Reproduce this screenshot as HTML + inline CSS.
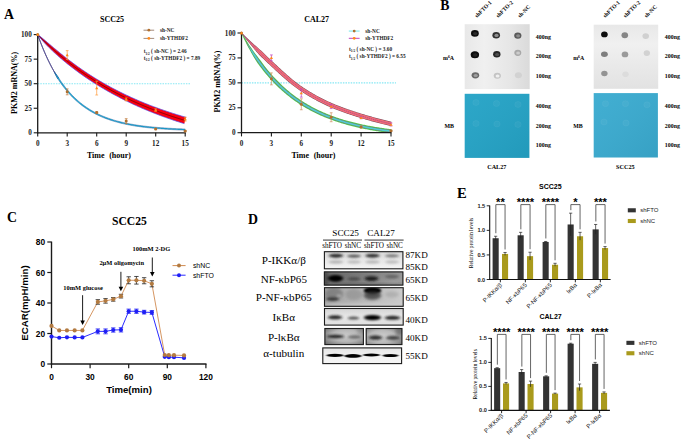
<!DOCTYPE html>
<html><head><meta charset="utf-8"><style>
html,body{margin:0;padding:0;background:#fff;}
body{width:685px;height:442px;overflow:hidden;position:relative;}
svg{position:absolute;left:0;top:0;}
</style></head><body>
<svg width="685" height="442" viewBox="0 0 685 442">
<defs>
<linearGradient id="gg" x1="0" y1="0" x2="1" y2="0"><stop offset="0" stop-color="#e8e8e8"/><stop offset="0.3" stop-color="#f0f0f0"/><stop offset="0.7" stop-color="#e6e6e6"/><stop offset="1" stop-color="#dadada"/></linearGradient>
<linearGradient id="gg2" x1="0" y1="0" x2="0" y2="1"><stop offset="0" stop-color="#e8e8e8"/><stop offset="0.3" stop-color="#f0f0f0"/><stop offset="1" stop-color="#e2e2e2"/></linearGradient>
<linearGradient id="bg" x1="0" y1="0" x2="1" y2="1"><stop offset="0" stop-color="#ffffff" stop-opacity="0.04"/><stop offset="1" stop-color="#000000" stop-opacity="0.06"/></linearGradient>
<linearGradient id="wb1" x1="0" y1="0" x2="0" y2="1"><stop offset="0" stop-color="#d8d8d8"/><stop offset="0.5" stop-color="#e8e8e8"/><stop offset="1" stop-color="#f4f4f4"/></linearGradient>
<linearGradient id="wb3" x1="0" y1="0" x2="1" y2="0"><stop offset="0" stop-color="#a4a4a4"/><stop offset="0.45" stop-color="#b4b4b4"/><stop offset="0.7" stop-color="#c0c0c0"/><stop offset="1" stop-color="#cccccc"/></linearGradient>
<linearGradient id="wb4" x1="0" y1="0" x2="0" y2="1"><stop offset="0" stop-color="#d2d2d2"/><stop offset="0.5" stop-color="#e8e8e8"/><stop offset="1" stop-color="#dedede"/></linearGradient>
<radialGradient id="wb5" cx="0.55" cy="0.45" r="0.7"><stop offset="0" stop-color="#cccccc"/><stop offset="0.5" stop-color="#b6b6b6"/><stop offset="1" stop-color="#6e6e6e"/></radialGradient>
<radialGradient id="wb5b" cx="0.45" cy="0.5" r="0.7"><stop offset="0" stop-color="#cfcfcf"/><stop offset="0.5" stop-color="#bababa"/><stop offset="1" stop-color="#747474"/></radialGradient>
<linearGradient id="wb6" x1="0" y1="0" x2="0" y2="1"><stop offset="0" stop-color="#e4e4e4"/><stop offset="0.5" stop-color="#f2f2f2"/><stop offset="1" stop-color="#f6f6f6"/></linearGradient>
<filter id="bh" x="-50%" y="-100%" width="200%" height="300%"><feGaussianBlur stdDeviation="1.4 0.85"/></filter>
<linearGradient id="wb2" x1="0" y1="0" x2="1" y2="0.3"><stop offset="0" stop-color="#626262"/><stop offset="0.5" stop-color="#7a7a7a"/><stop offset="1" stop-color="#9a9a9a"/></linearGradient>
<radialGradient id="wb5r" cx="0.5" cy="0.5" r="0.7"><stop offset="0" stop-color="#cacaca"/><stop offset="0.6" stop-color="#b4b4b4"/><stop offset="1" stop-color="#7a7a7a"/></radialGradient>
<filter id="bt" x="-50%" y="-100%" width="200%" height="300%"><feGaussianBlur stdDeviation="1.0 0.5"/></filter>
<filter id="b05" x="-50%" y="-50%" width="200%" height="200%"><feGaussianBlur stdDeviation="0.5"/></filter>
<filter id="b1" x="-50%" y="-50%" width="200%" height="200%"><feGaussianBlur stdDeviation="1"/></filter>
<filter id="b15" x="-50%" y="-50%" width="200%" height="200%"><feGaussianBlur stdDeviation="1.5"/></filter>
</defs>
<text x="100.00" y="21.60" font-family='"Liberation Serif", serif' font-size="8.0" font-weight="bold" text-anchor="start" fill="#000">SCC25</text>
<line x1="37.70" y1="83.70" x2="190.12" y2="83.70" stroke="#86e8f4" stroke-width="1.1" stroke-dasharray="1.5,1.1"/>
<path d="M37.70,34.60 L37.84,34.99 L37.98,35.38 L38.12,35.77 L38.25,36.16 L38.39,36.55 L38.53,36.93 L38.67,37.31 L38.81,37.70 L38.95,38.08 L39.09,38.45 L39.22,38.83 L39.36,39.21 L39.50,39.58 L39.64,39.95 L39.78,40.32 L39.92,40.69 L40.06,41.06 L40.19,41.43 L40.33,41.79 L40.47,42.15 L40.61,42.52 L40.75,42.88 L40.89,43.23 L41.03,43.59 L41.16,43.95 L41.30,44.30 L41.44,44.66 L41.58,45.01 L41.72,45.36 L41.86,45.71 L42.00,46.05 L42.13,46.40 L42.27,46.74 L42.41,47.09 L42.55,47.43 L42.69,47.77 L42.83,48.11 L42.97,48.44 L43.11,48.78 L43.24,49.11 L43.38,49.45 L43.52,49.78 L43.66,50.11 L43.80,50.44 L43.94,50.77 L44.08,51.09 L44.21,51.42 L44.35,51.74 L44.49,52.07 L44.63,52.39 L44.77,52.71 L44.91,53.03 L45.05,53.34 L45.18,53.66 L45.32,53.97 L45.46,54.29 L45.60,54.60 L45.74,54.91 L45.88,55.22 L46.02,55.53 L46.15,55.84 L46.29,56.14 L46.43,56.45 L46.57,56.75 L46.71,57.05 L46.85,57.35 L46.99,57.65 L47.12,57.95 L47.26,58.25 L47.40,58.55 L47.54,58.84 L47.68,59.13 L47.82,59.43 L47.96,59.72 L48.09,60.01 L48.23,60.30 L48.37,60.58 L48.51,60.87 L48.65,61.16 L48.79,61.44 L48.93,61.72 L49.06,62.01 L49.20,62.29 L49.34,62.57 L49.48,62.84 L49.62,63.12 L49.76,63.40 L49.90,63.67 L50.03,63.95 L50.17,64.22 L50.31,64.49 L50.45,64.76 L50.59,65.03 L50.73,65.30 L50.87,65.57 L51.00,65.83 L51.14,66.10 L51.28,66.36 L51.42,66.63 L51.56,66.89 L51.70,67.15 L51.84,67.41 L51.97,67.67 L52.11,67.92 L52.25,68.18 L52.39,68.44 L52.53,68.69 L52.67,68.94 L52.81,69.20 L52.94,69.45 L53.08,69.70 L53.22,69.95 L53.36,70.20 L53.49,70.45 L53.61,70.71 L53.73,70.96 L53.85,71.22 L53.97,71.47 L54.09,71.72 L54.21,71.98 L54.33,72.23 L54.45,72.48 L54.57,72.73 L54.69,72.97 L54.81,73.22 L54.94,73.47 L55.06,73.71 L55.18,73.96 L55.30,74.20 L55.42,74.45 L55.54,74.69 L55.66,74.93 L55.78,75.17 L55.90,75.41 L56.02,75.65 L56.14,75.89 L56.26,76.12 L56.39,76.36 L56.51,76.59 L56.63,76.83 L56.75,77.06 L56.87,77.30 L56.99,77.53 L57.11,77.76 L57.23,77.99 L57.36,78.22 L57.48,78.45 L57.60,78.67 L57.72,78.90 L58.98,78.09 L58.82,77.88 L58.67,77.68 L58.51,77.48 L58.36,77.27 L58.20,77.07 L58.05,76.86 L57.89,76.65 L57.73,76.45 L57.58,76.24 L57.42,76.03 L57.27,75.81 L57.11,75.60 L56.95,75.39 L56.80,75.17 L56.64,74.96 L56.48,74.74 L56.33,74.53 L56.17,74.31 L56.02,74.09 L55.86,73.87 L55.70,73.65 L55.55,73.42 L55.39,73.20 L55.23,72.98 L55.08,72.75 L54.92,72.52 L54.76,72.30 L54.61,72.07 L54.45,71.84 L54.29,71.61 L54.14,71.38 L53.98,71.14 L53.82,70.91 L53.67,70.67 L53.51,70.44 L53.36,70.20 L53.22,69.95 L53.08,69.70 L52.94,69.45 L52.81,69.20 L52.67,68.94 L52.53,68.69 L52.39,68.44 L52.25,68.18 L52.11,67.92 L51.97,67.67 L51.84,67.41 L51.70,67.15 L51.56,66.89 L51.42,66.63 L51.28,66.36 L51.14,66.10 L51.00,65.83 L50.87,65.57 L50.73,65.30 L50.59,65.03 L50.45,64.76 L50.31,64.49 L50.17,64.22 L50.03,63.95 L49.90,63.67 L49.76,63.40 L49.62,63.12 L49.48,62.84 L49.34,62.57 L49.20,62.29 L49.06,62.01 L48.93,61.72 L48.79,61.44 L48.65,61.16 L48.51,60.87 L48.37,60.58 L48.23,60.30 L48.09,60.01 L47.96,59.72 L47.82,59.43 L47.68,59.13 L47.54,58.84 L47.40,58.55 L47.26,58.25 L47.12,57.95 L46.99,57.65 L46.85,57.35 L46.71,57.05 L46.57,56.75 L46.43,56.45 L46.29,56.14 L46.15,55.84 L46.02,55.53 L45.88,55.22 L45.74,54.91 L45.60,54.60 L45.46,54.29 L45.32,53.97 L45.18,53.66 L45.05,53.34 L44.91,53.03 L44.77,52.71 L44.63,52.39 L44.49,52.07 L44.35,51.74 L44.21,51.42 L44.08,51.09 L43.94,50.77 L43.80,50.44 L43.66,50.11 L43.52,49.78 L43.38,49.45 L43.24,49.11 L43.11,48.78 L42.97,48.44 L42.83,48.11 L42.69,47.77 L42.55,47.43 L42.41,47.09 L42.27,46.74 L42.13,46.40 L42.00,46.05 L41.86,45.71 L41.72,45.36 L41.58,45.01 L41.44,44.66 L41.30,44.30 L41.16,43.95 L41.03,43.59 L40.89,43.23 L40.75,42.88 L40.61,42.52 L40.47,42.15 L40.33,41.79 L40.19,41.43 L40.06,41.06 L39.92,40.69 L39.78,40.32 L39.64,39.95 L39.50,39.58 L39.36,39.21 L39.22,38.83 L39.09,38.45 L38.95,38.08 L38.81,37.70 L38.67,37.31 L38.53,36.93 L38.39,36.55 L38.25,36.16 L38.12,35.77 L37.98,35.38 L37.84,34.99 L37.70,34.60 Z" fill="#1aa0c8"/>
<path d="M37.70,34.60 L37.84,34.99 L37.98,35.38 L38.12,35.77 L38.25,36.16 L38.39,36.55 L38.53,36.93 L38.67,37.31 L38.81,37.70 L38.95,38.08 L39.09,38.45 L39.22,38.83 L39.36,39.21 L39.50,39.58 L39.64,39.95 L39.78,40.32 L39.92,40.69 L40.06,41.06 L40.19,41.43 L40.33,41.79 L40.47,42.15 L40.61,42.52 L40.75,42.88 L40.89,43.23 L41.03,43.59 L41.16,43.95 L41.30,44.30 L41.44,44.66 L41.58,45.01 L41.72,45.36 L41.86,45.71 L42.00,46.05 L42.13,46.40 L42.27,46.74 L42.41,47.09 L42.55,47.43 L42.69,47.77 L42.83,48.11 L42.97,48.44 L43.11,48.78 L43.24,49.11 L43.38,49.45 L43.52,49.78 L43.66,50.11 L43.80,50.44 L43.94,50.77 L44.08,51.09 L44.21,51.42 L44.35,51.74 L44.49,52.07 L44.63,52.39 L44.77,52.71 L44.91,53.03 L45.05,53.34 L45.18,53.66 L45.32,53.97 L45.46,54.29 L45.60,54.60 L45.74,54.91 L45.88,55.22 L46.02,55.53 L46.15,55.84 L46.29,56.14 L46.43,56.45 L46.57,56.75 L46.71,57.05 L46.85,57.35 L46.99,57.65 L47.12,57.95 L47.26,58.25 L47.40,58.55 L47.54,58.84 L47.68,59.13 L47.82,59.43 L47.96,59.72 L48.09,60.01 L48.23,60.30 L48.37,60.58 L48.51,60.87 L48.65,61.16 L48.79,61.44 L48.93,61.72 L49.06,62.01 L49.20,62.29 L49.34,62.57 L49.48,62.84 L49.62,63.12 L49.76,63.40 L49.90,63.67 L50.03,63.95 L50.17,64.22 L50.31,64.49 L50.45,64.76 L50.59,65.03 L50.73,65.30 L50.87,65.57 L51.00,65.83 L51.14,66.10 L51.28,66.36 L51.42,66.63 L51.56,66.89 L51.70,67.15 L51.84,67.41 L51.97,67.67 L52.11,67.92 L52.25,68.18 L52.39,68.44 L52.53,68.69 L52.67,68.94 L52.81,69.20 L52.94,69.45 L53.08,69.70 L53.22,69.95 L53.36,70.20 L53.49,70.45 L53.61,70.71 L53.73,70.96 L53.85,71.22 L53.97,71.47 L54.09,71.72 L54.21,71.98 L54.33,72.23 L54.45,72.48 L54.57,72.73 L54.69,72.97 L54.81,73.22 L54.94,73.47 L55.06,73.71 L55.18,73.96 L55.30,74.20 L55.42,74.45 L55.54,74.69 L55.66,74.93 L55.78,75.17 L55.90,75.41 L56.02,75.65 L56.14,75.89 L56.26,76.12 L56.39,76.36 L56.51,76.59 L56.63,76.83 L56.75,77.06 L56.87,77.30 L56.99,77.53 L57.11,77.76 L57.23,77.99 L57.36,78.22 L57.48,78.45 L57.60,78.67 L57.72,78.90" fill="none" stroke="#2a5a9a" stroke-width="0.4"/>
<path d="M37.70,34.60 L37.84,34.99 L37.98,35.38 L38.12,35.77 L38.25,36.16 L38.39,36.55 L38.53,36.93 L38.67,37.31 L38.81,37.70 L38.95,38.08 L39.09,38.45 L39.22,38.83 L39.36,39.21 L39.50,39.58 L39.64,39.95 L39.78,40.32 L39.92,40.69 L40.06,41.06 L40.19,41.43 L40.33,41.79 L40.47,42.15 L40.61,42.52 L40.75,42.88 L40.89,43.23 L41.03,43.59 L41.16,43.95 L41.30,44.30 L41.44,44.66 L41.58,45.01 L41.72,45.36 L41.86,45.71 L42.00,46.05 L42.13,46.40 L42.27,46.74 L42.41,47.09 L42.55,47.43 L42.69,47.77 L42.83,48.11 L42.97,48.44 L43.11,48.78 L43.24,49.11 L43.38,49.45 L43.52,49.78 L43.66,50.11 L43.80,50.44 L43.94,50.77 L44.08,51.09 L44.21,51.42 L44.35,51.74 L44.49,52.07 L44.63,52.39 L44.77,52.71 L44.91,53.03 L45.05,53.34 L45.18,53.66 L45.32,53.97 L45.46,54.29 L45.60,54.60 L45.74,54.91 L45.88,55.22 L46.02,55.53 L46.15,55.84 L46.29,56.14 L46.43,56.45 L46.57,56.75 L46.71,57.05 L46.85,57.35 L46.99,57.65 L47.12,57.95 L47.26,58.25 L47.40,58.55 L47.54,58.84 L47.68,59.13 L47.82,59.43 L47.96,59.72 L48.09,60.01 L48.23,60.30 L48.37,60.58 L48.51,60.87 L48.65,61.16 L48.79,61.44 L48.93,61.72 L49.06,62.01 L49.20,62.29 L49.34,62.57 L49.48,62.84 L49.62,63.12 L49.76,63.40 L49.90,63.67 L50.03,63.95 L50.17,64.22 L50.31,64.49 L50.45,64.76 L50.59,65.03 L50.73,65.30 L50.87,65.57 L51.00,65.83 L51.14,66.10 L51.28,66.36 L51.42,66.63 L51.56,66.89 L51.70,67.15 L51.84,67.41 L51.97,67.67 L52.11,67.92 L52.25,68.18 L52.39,68.44 L52.53,68.69 L52.67,68.94 L52.81,69.20 L52.94,69.45 L53.08,69.70 L53.22,69.95 L53.36,70.20 L53.51,70.44 L53.67,70.67 L53.82,70.91 L53.98,71.14 L54.14,71.38 L54.29,71.61 L54.45,71.84 L54.61,72.07 L54.76,72.30 L54.92,72.52 L55.08,72.75 L55.23,72.98 L55.39,73.20 L55.55,73.42 L55.70,73.65 L55.86,73.87 L56.02,74.09 L56.17,74.31 L56.33,74.53 L56.48,74.74 L56.64,74.96 L56.80,75.17 L56.95,75.39 L57.11,75.60 L57.27,75.81 L57.42,76.03 L57.58,76.24 L57.73,76.45 L57.89,76.65 L58.05,76.86 L58.20,77.07 L58.36,77.27 L58.51,77.48 L58.67,77.68 L58.82,77.88 L58.98,78.09" fill="none" stroke="#2a5a9a" stroke-width="0.4"/>
<path d="M37.70,34.60 L37.84,34.99 L37.98,35.38 L38.12,35.77 L38.25,36.16 L38.39,36.55 L38.53,36.93 L38.67,37.31 L38.81,37.70 L38.95,38.08 L39.09,38.45 L39.22,38.83 L39.36,39.21 L39.50,39.58 L39.64,39.95 L39.78,40.32 L39.92,40.69 L40.06,41.06 L40.19,41.43 L40.33,41.79 L40.47,42.15 L40.61,42.52 L40.75,42.88 L40.89,43.23 L41.03,43.59 L41.16,43.95 L41.30,44.30 L41.44,44.66 L41.58,45.01 L41.72,45.36 L41.86,45.71 L42.00,46.05 L42.13,46.40 L42.27,46.74 L42.41,47.09 L42.55,47.43 L42.69,47.77 L42.83,48.11 L42.97,48.44 L43.11,48.78 L43.24,49.11 L43.38,49.45 L43.52,49.78 L43.66,50.11 L43.80,50.44 L43.94,50.77 L44.08,51.09 L44.21,51.42 L44.35,51.74 L44.49,52.07 L44.63,52.39 L44.77,52.71 L44.91,53.03 L45.05,53.34 L45.18,53.66 L45.32,53.97 L45.46,54.29 L45.60,54.60 L45.74,54.91 L45.88,55.22 L46.02,55.53 L46.15,55.84 L46.29,56.14 L46.43,56.45 L46.57,56.75 L46.71,57.05 L46.85,57.35 L46.99,57.65 L47.12,57.95 L47.26,58.25 L47.40,58.55 L47.54,58.84 L47.68,59.13 L47.82,59.43 L47.96,59.72 L48.09,60.01 L48.23,60.30 L48.37,60.58 L48.51,60.87 L48.65,61.16 L48.79,61.44 L48.93,61.72 L49.06,62.01 L49.20,62.29 L49.34,62.57 L49.48,62.84 L49.62,63.12 L49.76,63.40 L49.90,63.67 L50.03,63.95 L50.17,64.22 L50.31,64.49 L50.45,64.76 L50.59,65.03 L50.73,65.30 L50.87,65.57 L51.00,65.83 L51.14,66.10 L51.28,66.36 L51.42,66.63 L51.56,66.89 L51.70,67.15 L51.84,67.41 L51.97,67.67 L52.11,67.92 L52.25,68.18 L52.39,68.44 L52.53,68.69 L52.67,68.94 L52.81,69.20 L52.94,69.45 L53.08,69.70 L53.22,69.95 L53.36,70.20 L53.50,70.44 L53.64,70.69 L53.78,70.94 L53.92,71.18 L54.05,71.42 L54.19,71.67 L54.33,71.91 L54.47,72.15 L54.61,72.39 L54.75,72.63 L54.89,72.86 L55.02,73.10 L55.16,73.33 L55.30,73.57 L55.44,73.80 L55.58,74.04 L55.72,74.27 L55.86,74.50 L55.99,74.73 L56.13,74.96 L56.27,75.18 L56.41,75.41 L56.55,75.64 L56.69,75.86 L56.83,76.09 L56.96,76.31 L57.10,76.53 L57.24,76.75 L57.38,76.97 L57.52,77.19 L57.66,77.41 L57.80,77.63 L57.93,77.85 L58.07,78.06 L58.21,78.28 L58.35,78.49" fill="none" stroke="#4b2a78" stroke-width="0.9"/>
<path d="M54.29,72.13 L55.05,73.70 L55.82,75.24 L56.58,76.74 L57.42,78.16 L58.30,79.52 L59.19,80.85 L60.07,82.14 L60.95,83.40 L61.83,84.63 L62.71,85.82 L63.60,86.99 L64.48,88.12 L65.36,89.23 L66.24,90.31 L67.13,91.36 L68.01,92.38 L68.89,93.38 L69.77,94.36 L70.66,95.30 L71.54,96.23 L72.42,97.13 L73.31,98.01 L74.19,98.86 L75.07,99.69 L75.96,100.51 L76.84,101.30 L77.72,102.07 L78.61,102.82 L79.49,103.55 L80.37,104.27 L81.26,104.96 L82.14,105.64 L83.03,106.30 L83.91,106.95 L84.79,107.57 L85.68,108.18 L86.56,108.78 L87.44,109.36 L88.33,109.92 L89.21,110.48 L90.10,111.01 L90.98,111.54 L91.86,112.05 L92.75,112.54 L93.63,113.03 L94.51,113.50 L95.40,113.96 L96.28,114.41 L97.16,114.84 L98.05,115.27 L98.93,115.68 L99.81,116.08 L100.70,116.48 L101.58,116.86 L102.46,117.23 L103.34,117.60 L104.23,117.95 L105.11,118.30 L105.99,118.63 L106.87,118.96 L107.76,119.28 L108.64,119.59 L109.52,119.90 L110.40,120.19 L111.29,120.48 L112.17,120.76 L113.05,121.03 L113.93,121.30 L114.81,121.56 L115.70,121.81 L116.58,122.06 L117.46,122.30 L118.34,122.53 L119.22,122.76 L120.10,122.98 L120.98,123.20 L121.86,123.41 L122.75,123.62 L123.63,123.82 L124.51,124.01 L125.39,124.20 L126.27,124.39 L127.15,124.57 L128.03,124.74 L128.91,124.91 L129.79,125.08 L130.67,125.24 L131.55,125.40 L132.43,125.56 L133.31,125.71 L134.19,125.85 L135.07,126.00 L135.95,126.14 L136.83,126.27 L137.71,126.40 L138.59,126.53 L139.47,126.66 L140.35,126.78 L141.23,126.90 L142.11,127.02 L142.99,127.13 L143.87,127.24 L144.75,127.35 L145.63,127.45 L146.51,127.55 L147.39,127.65 L148.27,127.75 L149.15,127.84 L150.03,127.93 L150.91,128.02 L151.79,128.11 L152.67,128.20 L153.55,128.28 L154.42,128.36 L155.30,128.44 L156.18,128.52 L157.06,128.59 L157.94,128.66 L158.82,128.73 L159.70,128.80 L160.58,128.87 L161.46,128.94 L162.34,129.00 L163.21,129.06 L164.09,129.12 L164.97,129.18 L165.85,129.24 L166.73,129.30 L167.61,129.35 L168.49,129.40 L169.37,129.46 L170.24,129.51 L171.12,129.56 L172.00,129.60 L172.88,129.65 L173.76,129.70 L174.64,129.74 L175.52,129.78 L176.39,129.83 L177.27,129.87 L178.15,129.91 L179.03,129.95 L179.91,129.98 L180.79,130.02 L181.66,130.06 L182.54,130.09 L183.42,130.13 L184.30,130.16 L185.18,130.19 L185.22,128.99 L184.34,128.96 L183.47,128.93 L182.59,128.89 L181.71,128.86 L180.84,128.82 L179.96,128.79 L179.08,128.75 L178.21,128.71 L177.33,128.67 L176.45,128.63 L175.57,128.59 L174.70,128.54 L173.82,128.50 L172.94,128.45 L172.07,128.41 L171.19,128.36 L170.31,128.31 L169.44,128.26 L168.56,128.21 L167.68,128.15 L166.81,128.10 L165.93,128.04 L165.05,127.98 L164.18,127.93 L163.30,127.86 L162.42,127.80 L161.55,127.74 L160.67,127.67 L159.79,127.61 L158.92,127.54 L158.04,127.47 L157.16,127.39 L156.29,127.32 L155.41,127.24 L154.53,127.16 L153.66,127.08 L152.78,127.00 L151.90,126.92 L151.03,126.83 L150.15,126.74 L149.28,126.65 L148.40,126.56 L147.52,126.46 L146.65,126.36 L145.77,126.26 L144.90,126.15 L144.02,126.05 L143.14,125.94 L142.27,125.83 L141.39,125.71 L140.52,125.59 L139.64,125.47 L138.77,125.34 L137.89,125.22 L137.01,125.08 L136.14,124.95 L135.26,124.81 L134.39,124.67 L133.51,124.52 L132.64,124.37 L131.76,124.22 L130.89,124.06 L130.01,123.90 L129.14,123.74 L128.26,123.57 L127.39,123.39 L126.51,123.21 L125.64,123.03 L124.76,122.84 L123.89,122.65 L123.02,122.45 L122.14,122.24 L121.27,122.03 L120.39,121.82 L119.52,121.60 L118.64,121.37 L117.77,121.14 L116.90,120.90 L116.02,120.66 L115.15,120.41 L114.27,120.15 L113.40,119.89 L112.53,119.62 L111.65,119.34 L110.78,119.05 L109.91,118.76 L109.03,118.46 L108.16,118.15 L107.29,117.84 L106.41,117.51 L105.54,117.18 L104.67,116.84 L103.80,116.49 L102.92,116.13 L102.05,115.76 L101.18,115.38 L100.31,114.99 L99.43,114.59 L98.56,114.18 L97.69,113.76 L96.82,113.33 L95.94,112.89 L95.07,112.44 L94.20,111.97 L93.33,111.49 L92.46,111.00 L91.58,110.50 L90.71,109.98 L89.84,109.45 L88.97,108.91 L88.10,108.35 L87.23,107.78 L86.35,107.19 L85.48,106.59 L84.61,105.97 L83.74,105.34 L82.87,104.68 L81.99,104.02 L81.12,103.33 L80.25,102.63 L79.38,101.90 L78.51,101.16 L77.64,100.40 L76.76,99.62 L75.89,98.82 L75.02,97.99 L74.15,97.15 L73.27,96.28 L72.40,95.39 L71.53,94.48 L70.66,93.54 L69.79,92.58 L68.91,91.59 L68.04,90.58 L67.17,89.54 L66.29,88.48 L65.42,87.38 L64.55,86.26 L63.67,85.10 L62.80,83.92 L61.93,82.70 L61.05,81.46 L60.18,80.18 L59.31,78.86 L58.43,77.51 L57.52,76.16 L56.53,74.80 L55.54,73.41 L54.55,71.98 Z" fill="#18bce0"/>
<path d="M54.29,72.13 L55.05,73.70 L55.82,75.24 L56.58,76.74 L57.42,78.16 L58.30,79.52 L59.19,80.85 L60.07,82.14 L60.95,83.40 L61.83,84.63 L62.71,85.82 L63.60,86.99 L64.48,88.12 L65.36,89.23 L66.24,90.31 L67.13,91.36 L68.01,92.38 L68.89,93.38 L69.77,94.36 L70.66,95.30 L71.54,96.23 L72.42,97.13 L73.31,98.01 L74.19,98.86 L75.07,99.69 L75.96,100.51 L76.84,101.30 L77.72,102.07 L78.61,102.82 L79.49,103.55 L80.37,104.27 L81.26,104.96 L82.14,105.64 L83.03,106.30 L83.91,106.95 L84.79,107.57 L85.68,108.18 L86.56,108.78 L87.44,109.36 L88.33,109.92 L89.21,110.48 L90.10,111.01 L90.98,111.54 L91.86,112.05 L92.75,112.54 L93.63,113.03 L94.51,113.50 L95.40,113.96 L96.28,114.41 L97.16,114.84 L98.05,115.27 L98.93,115.68 L99.81,116.08 L100.70,116.48 L101.58,116.86 L102.46,117.23 L103.34,117.60 L104.23,117.95 L105.11,118.30 L105.99,118.63 L106.87,118.96 L107.76,119.28 L108.64,119.59 L109.52,119.90 L110.40,120.19 L111.29,120.48 L112.17,120.76 L113.05,121.03 L113.93,121.30 L114.81,121.56 L115.70,121.81 L116.58,122.06 L117.46,122.30 L118.34,122.53 L119.22,122.76 L120.10,122.98 L120.98,123.20 L121.86,123.41 L122.75,123.62 L123.63,123.82 L124.51,124.01 L125.39,124.20 L126.27,124.39 L127.15,124.57 L128.03,124.74 L128.91,124.91 L129.79,125.08 L130.67,125.24 L131.55,125.40 L132.43,125.56 L133.31,125.71 L134.19,125.85 L135.07,126.00 L135.95,126.14 L136.83,126.27 L137.71,126.40 L138.59,126.53 L139.47,126.66 L140.35,126.78 L141.23,126.90 L142.11,127.02 L142.99,127.13 L143.87,127.24 L144.75,127.35 L145.63,127.45 L146.51,127.55 L147.39,127.65 L148.27,127.75 L149.15,127.84 L150.03,127.93 L150.91,128.02 L151.79,128.11 L152.67,128.20 L153.55,128.28 L154.42,128.36 L155.30,128.44 L156.18,128.52 L157.06,128.59 L157.94,128.66 L158.82,128.73 L159.70,128.80 L160.58,128.87 L161.46,128.94 L162.34,129.00 L163.21,129.06 L164.09,129.12 L164.97,129.18 L165.85,129.24 L166.73,129.30 L167.61,129.35 L168.49,129.40 L169.37,129.46 L170.24,129.51 L171.12,129.56 L172.00,129.60 L172.88,129.65 L173.76,129.70 L174.64,129.74 L175.52,129.78 L176.39,129.83 L177.27,129.87 L178.15,129.91 L179.03,129.95 L179.91,129.98 L180.79,130.02 L181.66,130.06 L182.54,130.09 L183.42,130.13 L184.30,130.16 L185.18,130.19" fill="none" stroke="#264a8e" stroke-width="0.45"/>
<path d="M54.55,71.98 L55.54,73.41 L56.53,74.80 L57.52,76.16 L58.43,77.51 L59.31,78.86 L60.18,80.18 L61.05,81.46 L61.93,82.70 L62.80,83.92 L63.67,85.10 L64.55,86.26 L65.42,87.38 L66.29,88.48 L67.17,89.54 L68.04,90.58 L68.91,91.59 L69.79,92.58 L70.66,93.54 L71.53,94.48 L72.40,95.39 L73.27,96.28 L74.15,97.15 L75.02,97.99 L75.89,98.82 L76.76,99.62 L77.64,100.40 L78.51,101.16 L79.38,101.90 L80.25,102.63 L81.12,103.33 L81.99,104.02 L82.87,104.68 L83.74,105.34 L84.61,105.97 L85.48,106.59 L86.35,107.19 L87.23,107.78 L88.10,108.35 L88.97,108.91 L89.84,109.45 L90.71,109.98 L91.58,110.50 L92.46,111.00 L93.33,111.49 L94.20,111.97 L95.07,112.44 L95.94,112.89 L96.82,113.33 L97.69,113.76 L98.56,114.18 L99.43,114.59 L100.31,114.99 L101.18,115.38 L102.05,115.76 L102.92,116.13 L103.80,116.49 L104.67,116.84 L105.54,117.18 L106.41,117.51 L107.29,117.84 L108.16,118.15 L109.03,118.46 L109.91,118.76 L110.78,119.05 L111.65,119.34 L112.53,119.62 L113.40,119.89 L114.27,120.15 L115.15,120.41 L116.02,120.66 L116.90,120.90 L117.77,121.14 L118.64,121.37 L119.52,121.60 L120.39,121.82 L121.27,122.03 L122.14,122.24 L123.02,122.45 L123.89,122.65 L124.76,122.84 L125.64,123.03 L126.51,123.21 L127.39,123.39 L128.26,123.57 L129.14,123.74 L130.01,123.90 L130.89,124.06 L131.76,124.22 L132.64,124.37 L133.51,124.52 L134.39,124.67 L135.26,124.81 L136.14,124.95 L137.01,125.08 L137.89,125.22 L138.77,125.34 L139.64,125.47 L140.52,125.59 L141.39,125.71 L142.27,125.83 L143.14,125.94 L144.02,126.05 L144.90,126.15 L145.77,126.26 L146.65,126.36 L147.52,126.46 L148.40,126.56 L149.28,126.65 L150.15,126.74 L151.03,126.83 L151.90,126.92 L152.78,127.00 L153.66,127.08 L154.53,127.16 L155.41,127.24 L156.29,127.32 L157.16,127.39 L158.04,127.47 L158.92,127.54 L159.79,127.61 L160.67,127.67 L161.55,127.74 L162.42,127.80 L163.30,127.86 L164.18,127.93 L165.05,127.98 L165.93,128.04 L166.81,128.10 L167.68,128.15 L168.56,128.21 L169.44,128.26 L170.31,128.31 L171.19,128.36 L172.07,128.41 L172.94,128.45 L173.82,128.50 L174.70,128.54 L175.57,128.59 L176.45,128.63 L177.33,128.67 L178.21,128.71 L179.08,128.75 L179.96,128.79 L180.84,128.82 L181.71,128.86 L182.59,128.89 L183.47,128.93 L184.34,128.96 L185.22,128.99" fill="none" stroke="#264a8e" stroke-width="0.45"/>
<path d="M37.59,34.71 L38.46,35.83 L39.35,36.93 L40.24,38.02 L41.14,39.09 L42.06,40.14 L42.98,41.18 L43.91,42.21 L44.84,43.22 L45.78,44.21 L46.73,45.20 L47.68,46.17 L48.64,47.13 L49.60,48.08 L50.56,49.02 L51.52,49.95 L52.49,50.87 L53.46,51.78 L54.43,52.68 L55.41,53.57 L56.38,54.45 L57.36,55.33 L58.34,56.19 L59.32,57.05 L60.30,57.90 L61.28,58.74 L62.26,59.57 L63.25,60.40 L64.23,61.22 L65.22,62.03 L66.20,62.83 L67.19,63.63 L68.17,64.42 L69.16,65.21 L70.15,65.98 L71.13,66.75 L72.12,67.52 L73.11,68.27 L74.10,69.02 L75.09,69.77 L76.08,70.51 L77.07,71.24 L78.06,71.96 L79.04,72.68 L80.03,73.40 L81.02,74.11 L82.01,74.81 L83.00,75.50 L83.99,76.19 L84.98,76.88 L85.97,77.56 L86.97,78.23 L87.96,78.90 L88.95,79.56 L89.94,80.22 L90.93,80.87 L91.92,81.52 L92.91,82.16 L93.90,82.79 L94.89,83.42 L95.88,84.05 L96.88,84.67 L97.87,85.29 L98.86,85.90 L99.85,86.50 L100.84,87.10 L101.83,87.70 L102.83,88.29 L103.82,88.87 L104.81,89.46 L105.80,90.03 L106.79,90.60 L107.79,91.17 L108.78,91.73 L109.77,92.29 L110.76,92.85 L111.75,93.39 L112.75,93.94 L113.74,94.48 L114.73,95.02 L115.72,95.55 L116.72,96.07 L117.71,96.60 L118.70,97.12 L119.69,97.63 L120.69,98.14 L121.68,98.65 L122.67,99.15 L123.66,99.65 L124.66,100.14 L125.65,100.63 L126.64,101.12 L127.63,101.60 L128.63,102.08 L129.62,102.56 L130.61,103.03 L131.61,103.50 L132.60,103.96 L133.59,104.42 L134.59,104.88 L135.58,105.33 L136.57,105.78 L137.56,106.22 L138.56,106.67 L139.55,107.11 L140.54,107.54 L141.54,107.97 L142.53,108.40 L143.52,108.83 L144.52,109.25 L145.51,109.67 L146.50,110.08 L147.50,110.49 L148.49,110.90 L149.48,111.31 L150.48,111.71 L151.47,112.11 L152.46,112.50 L153.46,112.89 L154.45,113.28 L155.44,113.67 L156.44,114.05 L157.43,114.43 L158.42,114.81 L159.42,115.19 L160.41,115.56 L161.41,115.93 L162.40,116.29 L163.39,116.66 L164.39,117.02 L165.38,117.37 L166.37,117.73 L167.37,118.08 L168.36,118.43 L169.35,118.78 L170.35,119.12 L171.34,119.46 L172.33,119.80 L173.33,120.14 L174.32,120.47 L175.31,120.80 L176.31,121.13 L177.30,121.46 L178.30,121.78 L179.29,122.10 L180.28,122.42 L181.28,122.73 L182.27,123.05 L183.26,123.36 L184.25,123.67 L186.15,117.34 L185.16,117.06 L184.17,116.77 L183.18,116.49 L182.20,116.20 L181.21,115.90 L180.23,115.61 L179.24,115.31 L178.25,115.01 L177.27,114.71 L176.28,114.40 L175.29,114.09 L174.31,113.78 L173.32,113.47 L172.33,113.15 L171.35,112.84 L170.36,112.51 L169.38,112.19 L168.39,111.87 L167.40,111.54 L166.42,111.20 L165.43,110.87 L164.44,110.53 L163.46,110.19 L162.47,109.85 L161.49,109.51 L160.50,109.16 L159.51,108.81 L158.53,108.45 L157.54,108.09 L156.55,107.73 L155.57,107.37 L154.58,107.00 L153.59,106.63 L152.61,106.26 L151.62,105.89 L150.63,105.51 L149.65,105.13 L148.66,104.74 L147.67,104.35 L146.69,103.96 L145.70,103.57 L144.71,103.17 L143.73,102.77 L142.74,102.36 L141.75,101.95 L140.77,101.54 L139.78,101.13 L138.79,100.71 L137.81,100.29 L136.82,99.86 L135.83,99.43 L134.85,99.00 L133.86,98.56 L132.87,98.12 L131.89,97.68 L130.90,97.23 L129.91,96.78 L128.93,96.32 L127.94,95.86 L126.95,95.40 L125.96,94.93 L124.98,94.46 L123.99,93.99 L123.00,93.51 L122.02,93.02 L121.03,92.54 L120.04,92.05 L119.05,91.55 L118.07,91.05 L117.08,90.55 L116.09,90.04 L115.10,89.52 L114.12,89.01 L113.13,88.49 L112.14,87.96 L111.15,87.43 L110.17,86.90 L109.18,86.36 L108.19,85.81 L107.20,85.26 L106.21,84.71 L105.23,84.15 L104.24,83.59 L103.25,83.02 L102.26,82.45 L101.27,81.87 L100.28,81.29 L99.30,80.70 L98.31,80.11 L97.32,79.51 L96.33,78.91 L95.34,78.30 L94.35,77.69 L93.36,77.07 L92.38,76.45 L91.39,75.82 L90.40,75.19 L89.41,74.55 L88.42,73.90 L87.43,73.25 L86.44,72.60 L85.45,71.94 L84.46,71.27 L83.47,70.60 L82.48,69.92 L81.49,69.24 L80.50,68.55 L79.51,67.85 L78.52,67.15 L77.53,66.44 L76.54,65.73 L75.54,65.01 L74.55,64.28 L73.56,63.55 L72.57,62.82 L71.58,62.07 L70.58,61.32 L69.59,60.57 L68.59,59.81 L67.60,59.04 L66.61,58.27 L65.61,57.49 L64.61,56.70 L63.62,55.91 L62.62,55.11 L61.62,54.30 L60.62,53.49 L59.62,52.68 L58.61,51.86 L57.61,51.03 L56.60,50.20 L55.60,49.36 L54.59,48.51 L53.57,47.66 L52.56,46.81 L51.54,45.95 L50.52,45.08 L49.50,44.21 L48.47,43.34 L47.43,42.46 L46.40,41.58 L45.35,40.70 L44.30,39.82 L43.24,38.93 L42.18,38.04 L41.10,37.15 L40.01,36.27 L38.92,35.38 L37.81,34.49 Z" fill="#f80010"/>
<path d="M37.59,34.71 L38.46,35.83 L39.35,36.93 L40.24,38.02 L41.14,39.09 L42.06,40.14 L42.98,41.18 L43.91,42.21 L44.84,43.22 L45.78,44.21 L46.73,45.20 L47.68,46.17 L48.64,47.13 L49.60,48.08 L50.56,49.02 L51.52,49.95 L52.49,50.87 L53.46,51.78 L54.43,52.68 L55.41,53.57 L56.38,54.45 L57.36,55.33 L58.34,56.19 L59.32,57.05 L60.30,57.90 L61.28,58.74 L62.26,59.57 L63.25,60.40 L64.23,61.22 L65.22,62.03 L66.20,62.83 L67.19,63.63 L68.17,64.42 L69.16,65.21 L70.15,65.98 L71.13,66.75 L72.12,67.52 L73.11,68.27 L74.10,69.02 L75.09,69.77 L76.08,70.51 L77.07,71.24 L78.06,71.96 L79.04,72.68 L80.03,73.40 L81.02,74.11 L82.01,74.81 L83.00,75.50 L83.99,76.19 L84.98,76.88 L85.97,77.56 L86.97,78.23 L87.96,78.90 L88.95,79.56 L89.94,80.22 L90.93,80.87 L91.92,81.52 L92.91,82.16 L93.90,82.79 L94.89,83.42 L95.88,84.05 L96.88,84.67 L97.87,85.29 L98.86,85.90 L99.85,86.50 L100.84,87.10 L101.83,87.70 L102.83,88.29 L103.82,88.87 L104.81,89.46 L105.80,90.03 L106.79,90.60 L107.79,91.17 L108.78,91.73 L109.77,92.29 L110.76,92.85 L111.75,93.39 L112.75,93.94 L113.74,94.48 L114.73,95.02 L115.72,95.55 L116.72,96.07 L117.71,96.60 L118.70,97.12 L119.69,97.63 L120.69,98.14 L121.68,98.65 L122.67,99.15 L123.66,99.65 L124.66,100.14 L125.65,100.63 L126.64,101.12 L127.63,101.60 L128.63,102.08 L129.62,102.56 L130.61,103.03 L131.61,103.50 L132.60,103.96 L133.59,104.42 L134.59,104.88 L135.58,105.33 L136.57,105.78 L137.56,106.22 L138.56,106.67 L139.55,107.11 L140.54,107.54 L141.54,107.97 L142.53,108.40 L143.52,108.83 L144.52,109.25 L145.51,109.67 L146.50,110.08 L147.50,110.49 L148.49,110.90 L149.48,111.31 L150.48,111.71 L151.47,112.11 L152.46,112.50 L153.46,112.89 L154.45,113.28 L155.44,113.67 L156.44,114.05 L157.43,114.43 L158.42,114.81 L159.42,115.19 L160.41,115.56 L161.41,115.93 L162.40,116.29 L163.39,116.66 L164.39,117.02 L165.38,117.37 L166.37,117.73 L167.37,118.08 L168.36,118.43 L169.35,118.78 L170.35,119.12 L171.34,119.46 L172.33,119.80 L173.33,120.14 L174.32,120.47 L175.31,120.80 L176.31,121.13 L177.30,121.46 L178.30,121.78 L179.29,122.10 L180.28,122.42 L181.28,122.73 L182.27,123.05 L183.26,123.36 L184.25,123.67" fill="none" stroke="#4a4af5" stroke-width="0.7"/>
<path d="M37.81,34.49 L38.92,35.38 L40.01,36.27 L41.10,37.15 L42.18,38.04 L43.24,38.93 L44.30,39.82 L45.35,40.70 L46.40,41.58 L47.43,42.46 L48.47,43.34 L49.50,44.21 L50.52,45.08 L51.54,45.95 L52.56,46.81 L53.57,47.66 L54.59,48.51 L55.60,49.36 L56.60,50.20 L57.61,51.03 L58.61,51.86 L59.62,52.68 L60.62,53.49 L61.62,54.30 L62.62,55.11 L63.62,55.91 L64.61,56.70 L65.61,57.49 L66.61,58.27 L67.60,59.04 L68.59,59.81 L69.59,60.57 L70.58,61.32 L71.58,62.07 L72.57,62.82 L73.56,63.55 L74.55,64.28 L75.54,65.01 L76.54,65.73 L77.53,66.44 L78.52,67.15 L79.51,67.85 L80.50,68.55 L81.49,69.24 L82.48,69.92 L83.47,70.60 L84.46,71.27 L85.45,71.94 L86.44,72.60 L87.43,73.25 L88.42,73.90 L89.41,74.55 L90.40,75.19 L91.39,75.82 L92.38,76.45 L93.36,77.07 L94.35,77.69 L95.34,78.30 L96.33,78.91 L97.32,79.51 L98.31,80.11 L99.30,80.70 L100.28,81.29 L101.27,81.87 L102.26,82.45 L103.25,83.02 L104.24,83.59 L105.23,84.15 L106.21,84.71 L107.20,85.26 L108.19,85.81 L109.18,86.36 L110.17,86.90 L111.15,87.43 L112.14,87.96 L113.13,88.49 L114.12,89.01 L115.10,89.52 L116.09,90.04 L117.08,90.55 L118.07,91.05 L119.05,91.55 L120.04,92.05 L121.03,92.54 L122.02,93.02 L123.00,93.51 L123.99,93.99 L124.98,94.46 L125.96,94.93 L126.95,95.40 L127.94,95.86 L128.93,96.32 L129.91,96.78 L130.90,97.23 L131.89,97.68 L132.87,98.12 L133.86,98.56 L134.85,99.00 L135.83,99.43 L136.82,99.86 L137.81,100.29 L138.79,100.71 L139.78,101.13 L140.77,101.54 L141.75,101.95 L142.74,102.36 L143.73,102.77 L144.71,103.17 L145.70,103.57 L146.69,103.96 L147.67,104.35 L148.66,104.74 L149.65,105.13 L150.63,105.51 L151.62,105.89 L152.61,106.26 L153.59,106.63 L154.58,107.00 L155.57,107.37 L156.55,107.73 L157.54,108.09 L158.53,108.45 L159.51,108.81 L160.50,109.16 L161.49,109.51 L162.47,109.85 L163.46,110.19 L164.44,110.53 L165.43,110.87 L166.42,111.20 L167.40,111.54 L168.39,111.87 L169.38,112.19 L170.36,112.51 L171.35,112.84 L172.33,113.15 L173.32,113.47 L174.31,113.78 L175.29,114.09 L176.28,114.40 L177.27,114.71 L178.25,115.01 L179.24,115.31 L180.23,115.61 L181.21,115.90 L182.20,116.20 L183.18,116.49 L184.17,116.77 L185.16,117.06 L186.15,117.34" fill="none" stroke="#4a4af5" stroke-width="0.7"/>
<path d="M37.70,34.60 L38.69,35.60 L39.68,36.60 L40.67,37.59 L41.66,38.57 L42.65,39.54 L43.64,40.50 L44.63,41.45 L45.62,42.40 L46.61,43.34 L47.60,44.27 L48.59,45.19 L49.58,46.11 L50.57,47.01 L51.56,47.91 L52.55,48.81 L53.54,49.69 L54.53,50.57 L55.52,51.44 L56.51,52.30 L57.50,53.15 L58.49,54.00 L59.48,54.84 L60.47,55.68 L61.46,56.50 L62.45,57.32 L63.44,58.14 L64.43,58.94 L65.42,59.74 L66.41,60.53 L67.40,61.32 L68.39,62.10 L69.38,62.87 L70.37,63.64 L71.36,64.40 L72.35,65.15 L73.34,65.90 L74.33,66.64 L75.32,67.38 L76.31,68.11 L77.30,68.83 L78.29,69.54 L79.28,70.26 L80.27,70.96 L81.26,71.66 L82.25,72.35 L83.24,73.04 L84.23,73.72 L85.22,74.40 L86.21,75.07 L87.20,75.73 L88.19,76.39 L89.18,77.04 L90.17,77.69 L91.16,78.33 L92.15,78.97 L93.14,79.60 L94.13,80.23 L95.12,80.85 L96.11,81.47 L97.10,82.08 L98.09,82.69 L99.08,83.29 L100.07,83.88 L101.06,84.48 L102.05,85.06 L103.04,85.64 L104.03,86.22 L105.02,86.79 L106.01,87.36 L107.00,87.92 L107.99,88.48 L108.98,89.03 L109.97,89.58 L110.96,90.13 L111.94,90.67 L112.93,91.20 L113.92,91.73 L114.91,92.26 L115.90,92.78 L116.89,93.30 L117.88,93.81 L118.87,94.32 L119.86,94.83 L120.85,95.33 L121.84,95.82 L122.83,96.32 L123.82,96.81 L124.81,97.29 L125.80,97.77 L126.79,98.25 L127.78,98.72 L128.77,99.19 L129.76,99.66 L130.75,100.12 L131.74,100.57 L132.73,101.03 L133.72,101.48 L134.71,101.93 L135.70,102.37 L136.69,102.81 L137.68,103.24 L138.67,103.68 L139.66,104.10 L140.65,104.53 L141.64,104.95 L142.63,105.37 L143.62,105.78 L144.61,106.20 L145.60,106.60 L146.59,107.01 L147.58,107.41 L148.57,107.81 L149.56,108.20 L150.55,108.60 L151.54,108.98 L152.53,109.37 L153.52,109.75 L154.51,110.13 L155.50,110.51 L156.49,110.88 L157.48,111.25 L158.47,111.62 L159.46,111.98 L160.45,112.35 L161.44,112.70 L162.43,113.06 L163.42,113.41 L164.41,113.76 L165.40,114.11 L166.39,114.46 L167.38,114.80 L168.37,115.14 L169.36,115.47 L170.35,115.81 L171.34,116.14 L172.33,116.47 L173.32,116.79 L174.31,117.11 L175.30,117.44 L176.29,117.75 L177.28,118.07 L178.27,118.38 L179.26,118.69 L180.25,119.00 L181.24,119.31 L182.23,119.61 L183.22,119.91 L184.21,120.21 L185.20,120.51" fill="none" stroke="#500000" stroke-width="0.65"/>
<line x1="37.70" y1="34.30" x2="37.70" y2="133.40" stroke="#1a1a1a" stroke-width="1.3"/>
<line x1="37.10" y1="132.80" x2="185.80" y2="132.80" stroke="#1a1a1a" stroke-width="1.3"/>
<line x1="33.70" y1="132.80" x2="37.70" y2="132.80" stroke="#1a1a1a" stroke-width="1.1"/>
<text x="31.80" y="135.30" font-family='"Liberation Serif", serif' font-size="7.2" font-weight="bold" text-anchor="end" fill="#1a1a1a">0</text>
<line x1="33.70" y1="108.25" x2="37.70" y2="108.25" stroke="#1a1a1a" stroke-width="1.1"/>
<text x="31.80" y="110.75" font-family='"Liberation Serif", serif' font-size="7.2" font-weight="bold" text-anchor="end" fill="#1a1a1a">25</text>
<line x1="33.70" y1="83.70" x2="37.70" y2="83.70" stroke="#1a1a1a" stroke-width="1.1"/>
<text x="31.80" y="86.20" font-family='"Liberation Serif", serif' font-size="7.2" font-weight="bold" text-anchor="end" fill="#1a1a1a">50</text>
<line x1="33.70" y1="59.15" x2="37.70" y2="59.15" stroke="#1a1a1a" stroke-width="1.1"/>
<text x="31.80" y="61.65" font-family='"Liberation Serif", serif' font-size="7.2" font-weight="bold" text-anchor="end" fill="#1a1a1a">75</text>
<line x1="33.70" y1="34.60" x2="37.70" y2="34.60" stroke="#1a1a1a" stroke-width="1.1"/>
<text x="31.80" y="37.10" font-family='"Liberation Serif", serif' font-size="7.2" font-weight="bold" text-anchor="end" fill="#1a1a1a">100</text>
<line x1="37.70" y1="132.80" x2="37.70" y2="136.50" stroke="#1a1a1a" stroke-width="1.1"/>
<text x="37.70" y="146.20" font-family='"Liberation Serif", serif' font-size="7.2" font-weight="bold" text-anchor="middle" fill="#1a1a1a">0</text>
<line x1="67.20" y1="132.80" x2="67.20" y2="136.50" stroke="#1a1a1a" stroke-width="1.1"/>
<text x="67.20" y="146.20" font-family='"Liberation Serif", serif' font-size="7.2" font-weight="bold" text-anchor="middle" fill="#1a1a1a">3</text>
<line x1="96.70" y1="132.80" x2="96.70" y2="136.50" stroke="#1a1a1a" stroke-width="1.1"/>
<text x="96.70" y="146.20" font-family='"Liberation Serif", serif' font-size="7.2" font-weight="bold" text-anchor="middle" fill="#1a1a1a">6</text>
<line x1="126.20" y1="132.80" x2="126.20" y2="136.50" stroke="#1a1a1a" stroke-width="1.1"/>
<text x="126.20" y="146.20" font-family='"Liberation Serif", serif' font-size="7.2" font-weight="bold" text-anchor="middle" fill="#1a1a1a">9</text>
<line x1="155.70" y1="132.80" x2="155.70" y2="136.50" stroke="#1a1a1a" stroke-width="1.1"/>
<text x="155.70" y="146.20" font-family='"Liberation Serif", serif' font-size="7.2" font-weight="bold" text-anchor="middle" fill="#1a1a1a">12</text>
<line x1="185.20" y1="132.80" x2="185.20" y2="136.50" stroke="#1a1a1a" stroke-width="1.1"/>
<text x="185.20" y="146.20" font-family='"Liberation Serif", serif' font-size="7.2" font-weight="bold" text-anchor="middle" fill="#1a1a1a">15</text>
<text x="86.90" y="157.8" font-family='"Liberation Serif", serif' font-size="8.0" font-weight="bold">Time<tspan dx="4.6">(hour)</tspan></text>
<text x="17.40" y="82.90" font-family='"Liberation Serif", serif' font-size="8.0" font-weight="bold" text-anchor="middle" fill="#000" transform="rotate(-90 17.4 82.9)">PKM2 mRNA(%)</text>
<circle cx="37.70" cy="34.60" r="1.5" fill="#b0702f"/>
<line x1="67.20" y1="94.80" x2="67.20" y2="88.90" stroke="#c07a3a" stroke-width="0.7"/>
<line x1="65.80" y1="94.80" x2="68.60" y2="94.80" stroke="#c07a3a" stroke-width="0.7"/>
<line x1="65.80" y1="88.90" x2="68.60" y2="88.90" stroke="#c07a3a" stroke-width="0.7"/>
<circle cx="67.20" cy="91.85" r="1.5" fill="#b0702f"/>
<line x1="96.70" y1="113.55" x2="96.70" y2="111.59" stroke="#c07a3a" stroke-width="0.7"/>
<line x1="95.30" y1="113.55" x2="98.10" y2="113.55" stroke="#c07a3a" stroke-width="0.7"/>
<line x1="95.30" y1="111.59" x2="98.10" y2="111.59" stroke="#c07a3a" stroke-width="0.7"/>
<circle cx="96.70" cy="112.57" r="1.5" fill="#b0702f"/>
<line x1="126.20" y1="123.57" x2="126.20" y2="118.66" stroke="#c07a3a" stroke-width="0.7"/>
<line x1="124.80" y1="123.57" x2="127.60" y2="123.57" stroke="#c07a3a" stroke-width="0.7"/>
<line x1="124.80" y1="118.66" x2="127.60" y2="118.66" stroke="#c07a3a" stroke-width="0.7"/>
<circle cx="126.20" cy="121.11" r="1.5" fill="#b0702f"/>
<line x1="155.70" y1="129.56" x2="155.70" y2="128.38" stroke="#c07a3a" stroke-width="0.7"/>
<line x1="154.30" y1="129.56" x2="157.10" y2="129.56" stroke="#c07a3a" stroke-width="0.7"/>
<line x1="154.30" y1="128.38" x2="157.10" y2="128.38" stroke="#c07a3a" stroke-width="0.7"/>
<circle cx="155.70" cy="128.97" r="1.5" fill="#b0702f"/>
<line x1="185.20" y1="131.62" x2="185.20" y2="130.44" stroke="#c07a3a" stroke-width="0.7"/>
<line x1="183.80" y1="131.62" x2="186.60" y2="131.62" stroke="#c07a3a" stroke-width="0.7"/>
<line x1="183.80" y1="130.44" x2="186.60" y2="130.44" stroke="#c07a3a" stroke-width="0.7"/>
<circle cx="185.20" cy="131.03" r="1.5" fill="#b0702f"/>
<path d="M36.10,35.80 L37.70,33.00 L39.30,35.80 Z" fill="#ff8a1a"/>
<line x1="67.20" y1="59.64" x2="67.20" y2="50.61" stroke="#ff9a3a" stroke-width="0.7"/>
<line x1="65.80" y1="59.64" x2="68.60" y2="59.64" stroke="#ff9a3a" stroke-width="0.7"/>
<line x1="65.80" y1="50.61" x2="68.60" y2="50.61" stroke="#ff9a3a" stroke-width="0.7"/>
<path d="M65.60,56.32 L67.20,53.52 L68.80,56.32 Z" fill="#ff8a1a"/>
<line x1="96.70" y1="94.99" x2="96.70" y2="81.25" stroke="#ff9a3a" stroke-width="0.7"/>
<line x1="95.30" y1="94.99" x2="98.10" y2="94.99" stroke="#ff9a3a" stroke-width="0.7"/>
<line x1="95.30" y1="81.25" x2="98.10" y2="81.25" stroke="#ff9a3a" stroke-width="0.7"/>
<path d="M95.10,89.32 L96.70,86.52 L98.30,89.32 Z" fill="#ff8a1a"/>
<line x1="126.20" y1="100.89" x2="126.20" y2="97.94" stroke="#ff9a3a" stroke-width="0.7"/>
<line x1="124.80" y1="100.89" x2="127.60" y2="100.89" stroke="#ff9a3a" stroke-width="0.7"/>
<line x1="124.80" y1="97.94" x2="127.60" y2="97.94" stroke="#ff9a3a" stroke-width="0.7"/>
<path d="M124.60,100.61 L126.20,97.81 L127.80,100.61 Z" fill="#ff8a1a"/>
<line x1="155.70" y1="111.20" x2="155.70" y2="108.84" stroke="#ff9a3a" stroke-width="0.7"/>
<line x1="154.30" y1="111.20" x2="157.10" y2="111.20" stroke="#ff9a3a" stroke-width="0.7"/>
<line x1="154.30" y1="108.84" x2="157.10" y2="108.84" stroke="#ff9a3a" stroke-width="0.7"/>
<path d="M154.10,111.22 L155.70,108.42 L157.30,111.22 Z" fill="#ff8a1a"/>
<line x1="185.20" y1="121.11" x2="185.20" y2="117.19" stroke="#ff9a3a" stroke-width="0.7"/>
<line x1="183.80" y1="121.11" x2="186.60" y2="121.11" stroke="#ff9a3a" stroke-width="0.7"/>
<line x1="183.80" y1="117.19" x2="186.60" y2="117.19" stroke="#ff9a3a" stroke-width="0.7"/>
<path d="M183.60,120.35 L185.20,117.55 L186.80,120.35 Z" fill="#ff8a1a"/>
<line x1="143.50" y1="30.20" x2="154.20" y2="30.20" stroke="#8a6a55" stroke-width="0.8"/>
<circle cx="148.85" cy="30.20" r="1.4" fill="#b0702f"/>
<text x="159.90" y="32.10" font-family='"Liberation Serif", serif' font-size="5.3" font-weight="bold" text-anchor="start" fill="#222">sh-NC</text>
<line x1="143.50" y1="38.40" x2="154.20" y2="38.40" stroke="#8a7060" stroke-width="0.8"/>
<circle cx="148.85" cy="38.40" r="1.4" fill="#ff8a1a"/>
<text x="159.90" y="40.30" font-family='"Liberation Serif", serif' font-size="5.3" font-weight="bold" text-anchor="start" fill="#222">sh-YTHDF2</text>
<text x="143.70" y="53.40" font-family='"Liberation Serif", serif' font-size="5.3" font-weight="bold" fill="#222">t<tspan font-size="3.4" dy="1.3">1/2</tspan><tspan dy="-1.3"> ( sh-NC ) = 2.46</tspan></text>
<text x="143.70" y="59.80" font-family='"Liberation Serif", serif' font-size="5.3" font-weight="bold" fill="#222">t<tspan font-size="3.4" dy="1.3">1/2</tspan><tspan dy="-1.3"> ( sh-YTHDF2 ) = 7.89</tspan></text>
<text x="304.20" y="21.60" font-family='"Liberation Serif", serif' font-size="8.0" font-weight="bold" text-anchor="start" fill="#000">CAL27</text>
<line x1="241.50" y1="82.85" x2="395.98" y2="82.85" stroke="#86e8f4" stroke-width="1.1" stroke-dasharray="1.5,1.1"/>
<path d="M241.23,33.14 L242.15,35.10 L243.07,37.02 L243.98,38.92 L244.90,40.78 L245.82,42.61 L246.74,44.41 L247.66,46.17 L248.58,47.91 L249.50,49.62 L250.43,51.30 L251.35,52.96 L252.28,54.58 L253.20,56.18 L254.13,57.75 L255.06,59.30 L255.99,60.82 L256.93,62.31 L257.94,63.72 L258.95,65.11 L259.97,66.47 L260.98,67.81 L262.00,69.12 L263.01,70.41 L264.03,71.68 L265.04,72.92 L266.06,74.14 L267.07,75.34 L268.09,76.52 L269.10,77.67 L270.12,78.81 L271.13,79.92 L272.15,81.02 L273.16,82.09 L274.18,83.15 L275.20,84.18 L276.21,85.20 L277.23,86.20 L278.25,87.18 L279.26,88.14 L280.28,89.09 L281.30,90.02 L282.31,90.93 L283.33,91.82 L284.35,92.70 L285.36,93.57 L286.38,94.41 L287.40,95.25 L288.42,96.06 L289.43,96.87 L290.45,97.65 L291.47,98.43 L292.49,99.19 L293.50,99.93 L294.52,100.66 L295.54,101.38 L296.56,102.09 L297.57,102.78 L298.59,103.46 L299.61,104.13 L300.63,104.78 L301.64,105.43 L302.66,106.06 L303.68,106.68 L304.69,107.29 L305.71,107.89 L306.73,108.47 L307.75,109.05 L308.76,109.62 L309.78,110.17 L310.80,110.72 L311.81,111.25 L312.83,111.78 L313.85,112.29 L314.86,112.80 L315.88,113.30 L316.90,113.79 L317.91,114.26 L318.93,114.74 L319.94,115.20 L320.96,115.65 L321.98,116.10 L322.99,116.53 L324.01,116.96 L325.02,117.38 L326.04,117.80 L327.05,118.20 L328.07,118.60 L329.08,118.99 L330.10,119.37 L331.11,119.75 L332.13,120.12 L333.14,120.48 L334.15,120.84 L335.17,121.19 L336.18,121.53 L337.20,121.87 L338.21,122.20 L339.22,122.53 L340.24,122.85 L341.25,123.16 L342.26,123.47 L343.28,123.77 L344.29,124.07 L345.30,124.36 L346.31,124.64 L347.33,124.92 L348.34,125.20 L349.35,125.47 L350.36,125.73 L351.38,125.99 L352.39,126.25 L353.40,126.50 L354.41,126.75 L355.42,126.99 L356.43,127.23 L357.44,127.46 L358.46,127.69 L359.47,127.91 L360.48,128.13 L361.49,128.35 L362.50,128.56 L363.51,128.77 L364.52,128.97 L365.53,129.18 L366.54,129.37 L367.55,129.57 L368.56,129.76 L369.57,129.94 L370.58,130.13 L371.59,130.31 L372.60,130.48 L373.61,130.66 L374.62,130.83 L375.63,130.99 L376.63,131.16 L377.64,131.32 L378.65,131.48 L379.66,131.63 L380.67,131.78 L381.68,131.93 L382.69,132.08 L383.70,132.22 L384.70,132.37 L385.71,132.51 L386.72,132.64 L387.73,132.78 L388.74,132.91 L389.74,133.04 L390.75,133.16 L391.25,129.19 L390.25,129.07 L389.25,128.94 L388.25,128.81 L387.25,128.68 L386.25,128.54 L385.26,128.40 L384.26,128.26 L383.26,128.12 L382.26,127.98 L381.26,127.83 L380.26,127.68 L379.27,127.52 L378.27,127.37 L377.27,127.21 L376.27,127.05 L375.28,126.88 L374.28,126.71 L373.28,126.54 L372.28,126.37 L371.29,126.19 L370.29,126.01 L369.29,125.82 L368.30,125.64 L367.30,125.45 L366.30,125.25 L365.31,125.05 L364.31,124.85 L363.31,124.64 L362.32,124.44 L361.32,124.22 L360.33,124.01 L359.33,123.78 L358.33,123.56 L357.34,123.33 L356.34,123.10 L355.35,122.86 L354.35,122.62 L353.36,122.37 L352.36,122.12 L351.37,121.86 L350.37,121.60 L349.38,121.34 L348.38,121.07 L347.39,120.79 L346.40,120.51 L345.40,120.22 L344.41,119.93 L343.41,119.64 L342.42,119.34 L341.43,119.03 L340.43,118.72 L339.44,118.40 L338.45,118.07 L337.46,117.74 L336.46,117.41 L335.47,117.06 L334.48,116.71 L333.49,116.36 L332.49,116.00 L331.50,115.63 L330.51,115.25 L329.52,114.87 L328.53,114.48 L327.53,114.09 L326.54,113.68 L325.55,113.27 L324.56,112.85 L323.57,112.43 L322.58,111.99 L321.59,111.55 L320.60,111.10 L319.61,110.64 L318.61,110.17 L317.62,109.70 L316.63,109.21 L315.64,108.72 L314.65,108.22 L313.66,107.71 L312.67,107.18 L311.68,106.65 L310.69,106.11 L309.70,105.56 L308.71,105.00 L307.72,104.43 L306.74,103.85 L305.75,103.26 L304.76,102.65 L303.77,102.04 L302.78,101.41 L301.79,100.78 L300.80,100.13 L299.81,99.47 L298.82,98.79 L297.83,98.11 L296.84,97.41 L295.85,96.70 L294.86,95.97 L293.87,95.23 L292.89,94.48 L291.90,93.71 L290.91,92.93 L289.92,92.14 L288.93,91.33 L287.94,90.51 L286.95,89.67 L285.96,88.81 L284.97,87.94 L283.98,87.05 L282.99,86.15 L282.00,85.23 L281.01,84.29 L280.02,83.33 L279.03,82.36 L278.04,81.37 L277.05,80.36 L276.06,79.33 L275.07,78.28 L274.08,77.21 L273.09,76.13 L272.09,75.02 L271.10,73.89 L270.11,72.74 L269.12,71.57 L268.13,70.38 L267.14,69.16 L266.14,67.92 L265.15,66.66 L264.16,65.38 L263.17,64.07 L262.17,62.73 L261.18,61.37 L260.19,59.99 L259.12,58.63 L258.04,57.25 L256.97,55.84 L255.89,54.41 L254.81,52.94 L253.72,51.44 L252.64,49.92 L251.56,48.36 L250.47,46.77 L249.39,45.15 L248.30,43.50 L247.21,41.81 L246.13,40.09 L245.04,38.34 L243.95,36.55 L242.86,34.72 L241.77,32.86 Z" fill="#4cd64c" />
<path d="M241.50,33.00 L242.50,34.91 L243.51,36.79 L244.42,38.68 L245.34,40.53 L246.25,42.36 L247.17,44.16 L248.09,45.92 L249.01,47.66 L249.93,49.36 L250.85,51.04 L251.77,52.69 L252.69,54.31 L253.62,55.91 L254.54,57.47 L255.47,59.02 L256.45,60.50 L257.46,61.93 L258.47,63.34 L259.48,64.72 L260.49,66.08 L261.50,67.41 L262.51,68.72 L263.52,70.00 L264.53,71.27 L265.54,72.51 L266.55,73.72 L267.56,74.92 L268.58,76.09 L269.59,77.24 L270.60,78.37 L271.61,79.48 L272.62,80.57 L273.63,81.64 L274.65,82.69 L275.66,83.72 L276.67,84.74 L277.68,85.73 L278.69,86.71 L279.71,87.67 L280.72,88.61 L281.73,89.54 L282.74,90.44 L283.76,91.34 L284.77,92.21 L285.78,93.07 L286.79,93.91 L287.81,94.74 L288.82,95.56 L289.83,96.35 L290.85,97.14 L291.86,97.91 L292.87,98.66 L293.88,99.41 L294.90,100.13 L295.91,100.85 L296.92,101.55 L297.94,102.24 L298.95,102.92 L299.96,103.58 L300.97,104.24 L301.99,104.88 L303.00,105.51 L304.01,106.12 L305.03,106.73 L306.04,107.33 L307.05,107.91 L308.06,108.48 L309.08,109.05 L310.09,109.60 L311.10,110.14 L312.11,110.68 L313.13,111.20 L314.14,111.71 L315.15,112.22 L316.16,112.71 L317.17,113.20 L318.19,113.68 L319.20,114.14 L320.21,114.60 L321.22,115.06 L322.23,115.50 L323.25,115.93 L324.26,116.36 L325.27,116.78 L326.28,117.19 L327.29,117.60 L328.30,117.99 L329.31,118.38 L330.32,118.77 L331.34,119.14 L332.35,119.51 L333.36,119.87 L334.37,120.23 L335.38,120.58 L336.39,120.92 L337.40,121.25 L338.41,121.58 L339.42,121.91 L340.43,122.23 L341.44,122.54 L342.45,122.85 L343.46,123.15 L344.47,123.44 L345.48,123.73 L346.49,124.02 L347.50,124.30 L348.51,124.57 L349.52,124.84 L350.53,125.10 L351.54,125.36 L352.54,125.62 L353.55,125.87 L354.56,126.11 L355.57,126.36 L356.58,126.59 L357.59,126.82 L358.60,127.05 L359.61,127.28 L360.61,127.50 L361.62,127.71 L362.63,127.92 L363.64,128.13 L364.65,128.34 L365.66,128.54 L366.66,128.73 L367.67,128.93 L368.68,129.12 L369.69,129.30 L370.69,129.49 L371.70,129.67 L372.71,129.84 L373.72,130.02 L374.72,130.19 L375.73,130.35 L376.74,130.52 L377.75,130.68 L378.75,130.83 L379.76,130.99 L380.77,131.14 L381.77,131.29 L382.78,131.44 L383.79,131.58 L384.79,131.72 L385.80,131.86 L386.81,132.00 L387.81,132.13 L388.82,132.26 L389.83,132.39 L390.83,132.52 L391.17,129.84 L390.17,129.71 L389.17,129.58 L388.17,129.45 L387.17,129.32 L386.17,129.19 L385.17,129.05 L384.17,128.91 L383.17,128.76 L382.17,128.62 L381.17,128.47 L380.17,128.32 L379.17,128.17 L378.17,128.01 L377.17,127.85 L376.17,127.69 L375.17,127.52 L374.17,127.35 L373.17,127.18 L372.17,127.01 L371.17,126.83 L370.17,126.65 L369.17,126.46 L368.17,126.28 L367.18,126.08 L366.18,125.89 L365.18,125.69 L364.18,125.49 L363.18,125.28 L362.18,125.07 L361.18,124.86 L360.19,124.64 L359.19,124.42 L358.19,124.19 L357.19,123.96 L356.19,123.73 L355.20,123.49 L354.20,123.25 L353.20,123.00 L352.20,122.75 L351.21,122.49 L350.21,122.23 L349.21,121.96 L348.21,121.69 L347.22,121.42 L346.22,121.13 L345.22,120.85 L344.22,120.56 L343.23,120.26 L342.23,119.96 L341.23,119.65 L340.24,119.34 L339.24,119.02 L338.24,118.69 L337.25,118.36 L336.25,118.02 L335.26,117.68 L334.26,117.33 L333.26,116.97 L332.27,116.61 L331.27,116.24 L330.28,115.86 L329.28,115.48 L328.29,115.09 L327.29,114.69 L326.29,114.28 L325.30,113.87 L324.30,113.45 L323.31,113.02 L322.31,112.59 L321.32,112.14 L320.32,111.69 L319.33,111.23 L318.34,110.76 L317.34,110.28 L316.35,109.80 L315.35,109.30 L314.36,108.80 L313.36,108.28 L312.37,107.76 L311.37,107.23 L310.38,106.68 L309.39,106.13 L308.39,105.57 L307.40,104.99 L306.40,104.41 L305.41,103.81 L304.42,103.21 L303.42,102.59 L302.43,101.96 L301.43,101.32 L300.44,100.67 L299.45,100.00 L298.45,99.33 L297.46,98.64 L296.46,97.94 L295.47,97.22 L294.48,96.49 L293.48,95.75 L292.49,95.00 L291.50,94.23 L290.50,93.44 L289.51,92.64 L288.51,91.83 L287.52,91.00 L286.53,90.16 L285.53,89.30 L284.54,88.43 L283.54,87.53 L282.55,86.63 L281.55,85.70 L280.56,84.76 L279.57,83.80 L278.57,82.82 L277.58,81.83 L276.58,80.81 L275.59,79.78 L274.59,78.73 L273.60,77.65 L272.60,76.56 L271.61,75.45 L270.61,74.32 L269.62,73.16 L268.62,71.99 L267.63,70.79 L266.63,69.57 L265.63,68.33 L264.64,67.06 L263.64,65.77 L262.65,64.46 L261.65,63.12 L260.65,61.76 L259.66,60.37 L258.66,58.95 L257.63,57.54 L256.55,56.12 L255.47,54.68 L254.39,53.21 L253.30,51.71 L252.22,50.18 L251.13,48.62 L250.05,47.03 L248.96,45.41 L247.87,43.75 L246.78,42.06 L245.69,40.34 L244.60,38.58 L243.51,36.78 L242.50,34.91 L241.50,33.00 Z" fill="#7a7a6c" />
<path d="M241.50,33.00 L242.50,34.91 L243.51,36.79 L244.51,38.63 L245.51,40.43 L246.51,42.21 L247.43,44.00 L248.35,45.77 L249.27,47.50 L250.18,49.20 L251.10,50.88 L252.02,52.53 L252.95,54.15 L253.88,55.74 L254.88,57.25 L255.89,58.73 L256.90,60.18 L257.91,61.61 L258.91,63.02 L259.92,64.40 L260.93,65.75 L261.94,67.08 L262.94,68.38 L263.95,69.66 L264.96,70.92 L265.97,72.16 L266.97,73.37 L267.98,74.56 L268.99,75.73 L270.00,76.88 L271.01,78.00 L272.02,79.11 L273.02,80.20 L274.03,81.26 L275.04,82.31 L276.05,83.34 L277.06,84.35 L278.07,85.34 L279.07,86.31 L280.08,87.27 L281.09,88.21 L282.10,89.13 L283.11,90.03 L284.12,90.92 L285.13,91.79 L286.14,92.65 L287.15,93.49 L288.15,94.31 L289.16,95.13 L290.17,95.92 L291.18,96.70 L292.19,97.47 L293.20,98.22 L294.21,98.96 L295.22,99.69 L296.23,100.40 L297.23,101.10 L298.24,101.79 L299.25,102.46 L300.26,103.12 L301.27,103.77 L302.28,104.41 L303.29,105.04 L304.30,105.65 L305.31,106.26 L306.32,106.85 L307.32,107.43 L308.33,108.00 L309.34,108.57 L310.35,109.12 L311.36,109.66 L312.37,110.19 L313.38,110.71 L314.39,111.22 L315.39,111.72 L316.40,112.22 L317.41,112.70 L318.42,113.18 L319.43,113.64 L320.44,114.10 L321.44,114.55 L322.45,114.99 L323.46,115.43 L324.47,115.85 L325.48,116.27 L326.49,116.68 L327.49,117.09 L328.50,117.48 L329.51,117.87 L330.52,118.25 L331.53,118.63 L332.53,118.99 L333.54,119.35 L334.55,119.71 L335.56,120.06 L336.56,120.40 L337.57,120.73 L338.58,121.06 L339.59,121.38 L340.59,121.70 L341.60,122.01 L342.61,122.32 L343.62,122.62 L344.62,122.91 L345.63,123.20 L346.64,123.49 L347.64,123.77 L348.65,124.04 L349.66,124.31 L350.66,124.57 L351.67,124.83 L352.68,125.09 L353.68,125.33 L354.69,125.58 L355.70,125.82 L356.70,126.06 L357.71,126.29 L358.72,126.52 L359.72,126.74 L360.73,126.96 L361.74,127.17 L362.74,127.39 L363.75,127.59 L364.76,127.80 L365.76,128.00 L366.77,128.19 L367.77,128.39 L368.78,128.58 L369.79,128.76 L370.79,128.95 L371.80,129.12 L372.80,129.30 L373.81,129.47 L374.81,129.64 L375.82,129.81 L376.83,129.97 L377.83,130.13 L378.84,130.29 L379.84,130.45 L380.85,130.60 L381.85,130.75 L382.86,130.89 L383.86,131.04 L384.87,131.18 L385.87,131.32 L386.88,131.45 L387.89,131.59 L388.89,131.72 L389.90,131.85 L390.90,131.97 L391.10,130.38 L390.10,130.26 L389.10,130.13 L388.09,130.00 L387.09,129.87 L386.09,129.73 L385.09,129.59 L384.09,129.45 L383.09,129.31 L382.09,129.16 L381.08,129.02 L380.08,128.86 L379.08,128.71 L378.08,128.55 L377.08,128.39 L376.08,128.23 L375.08,128.06 L374.08,127.90 L373.08,127.72 L372.08,127.55 L371.07,127.37 L370.07,127.19 L369.07,127.00 L368.07,126.82 L367.07,126.62 L366.07,126.43 L365.07,126.23 L364.07,126.03 L363.07,125.82 L362.07,125.61 L361.07,125.40 L360.07,125.18 L359.07,124.95 L358.07,124.73 L357.07,124.50 L356.07,124.26 L355.07,124.02 L354.07,123.78 L353.07,123.53 L352.07,123.28 L351.07,123.02 L350.07,122.76 L349.07,122.49 L348.07,122.22 L347.07,121.95 L346.07,121.66 L345.07,121.38 L344.07,121.08 L343.07,120.79 L342.07,120.48 L341.07,120.17 L340.07,119.86 L339.07,119.54 L338.07,119.21 L337.07,118.88 L336.07,118.54 L335.08,118.20 L334.08,117.85 L333.08,117.49 L332.08,117.12 L331.08,116.75 L330.08,116.37 L329.08,115.99 L328.08,115.60 L327.08,115.20 L326.09,114.79 L325.09,114.38 L324.09,113.96 L323.09,113.53 L322.09,113.09 L321.09,112.64 L320.10,112.19 L319.10,111.73 L318.10,111.26 L317.10,110.78 L316.10,110.29 L315.10,109.79 L314.11,109.29 L313.11,108.77 L312.11,108.24 L311.11,107.71 L310.11,107.16 L309.12,106.61 L308.12,106.04 L307.12,105.47 L306.12,104.88 L305.13,104.28 L304.13,103.68 L303.13,103.06 L302.13,102.42 L301.13,101.78 L300.14,101.13 L299.14,100.46 L298.14,99.78 L297.14,99.09 L296.15,98.38 L295.15,97.67 L294.15,96.94 L293.15,96.19 L292.15,95.43 L291.16,94.66 L290.16,93.87 L289.16,93.07 L288.16,92.26 L287.17,91.42 L286.17,90.58 L285.17,89.71 L284.17,88.84 L283.17,87.94 L282.18,87.03 L281.18,86.10 L280.18,85.16 L279.18,84.19 L278.18,83.21 L277.19,82.21 L276.19,81.19 L275.19,80.16 L274.19,79.10 L273.19,78.03 L272.19,76.93 L271.20,75.81 L270.20,74.68 L269.20,73.52 L268.20,72.34 L267.20,71.14 L266.20,69.91 L265.20,68.67 L264.20,67.40 L263.21,66.11 L262.21,64.79 L261.21,63.45 L260.21,62.08 L259.21,60.69 L258.21,59.27 L257.21,57.82 L256.21,56.35 L255.21,54.85 L254.13,53.38 L253.05,51.87 L251.96,50.34 L250.88,48.78 L249.79,47.19 L248.70,45.56 L247.61,43.90 L246.52,42.21 L245.51,40.43 L244.51,38.63 L243.51,36.79 L242.50,34.91 L241.50,33.00 Z" fill="#4cd0d4" />
<path d="M241.28,33.20 L242.21,34.38 L243.14,35.55 L244.07,36.71 L245.00,37.88 L245.93,39.03 L246.86,40.18 L247.79,41.33 L248.72,42.47 L249.65,43.60 L250.59,44.73 L251.52,45.86 L252.45,46.98 L253.39,48.09 L254.32,49.20 L255.26,50.30 L256.19,51.40 L257.13,52.49 L258.06,53.57 L259.01,54.64 L260.02,55.65 L261.03,56.64 L262.04,57.63 L263.04,58.61 L264.05,59.59 L265.06,60.56 L266.07,61.52 L267.08,62.48 L268.09,63.43 L269.10,64.37 L270.10,65.31 L271.11,66.24 L272.11,67.17 L273.11,68.10 L274.12,69.03 L275.12,69.96 L276.13,70.89 L277.14,71.81 L278.14,72.74 L279.15,73.66 L280.16,74.57 L281.17,75.49 L282.17,76.39 L283.18,77.29 L284.20,78.18 L285.21,79.07 L286.22,79.94 L287.23,80.81 L288.25,81.67 L289.26,82.52 L290.28,83.35 L291.29,84.17 L292.31,84.99 L293.33,85.78 L294.35,86.57 L295.37,87.34 L296.39,88.09 L297.42,88.83 L298.44,89.55 L299.47,90.25 L300.49,90.93 L301.50,91.60 L302.52,92.26 L303.53,92.91 L304.54,93.55 L305.56,94.18 L306.57,94.81 L307.59,95.43 L308.60,96.04 L309.61,96.64 L310.63,97.23 L311.64,97.82 L312.66,98.40 L313.67,98.97 L314.69,99.53 L315.70,100.08 L316.72,100.63 L317.73,101.17 L318.75,101.70 L319.76,102.22 L320.78,102.74 L321.79,103.25 L322.81,103.75 L323.83,104.24 L324.84,104.72 L325.86,105.20 L326.87,105.67 L327.89,106.13 L328.91,106.58 L329.92,107.03 L330.94,107.46 L331.95,107.89 L332.97,108.32 L333.98,108.74 L334.99,109.15 L336.01,109.55 L337.02,109.95 L338.03,110.35 L339.05,110.74 L340.06,111.12 L341.07,111.50 L342.08,111.87 L343.10,112.24 L344.11,112.60 L345.12,112.96 L346.13,113.31 L347.14,113.66 L348.15,114.01 L349.16,114.35 L350.17,114.69 L351.18,115.02 L352.19,115.35 L353.20,115.68 L354.21,116.00 L355.22,116.33 L356.23,116.64 L357.23,116.96 L358.24,117.27 L359.25,117.58 L360.26,117.89 L361.26,118.20 L362.27,118.50 L363.28,118.81 L364.29,119.11 L365.29,119.41 L366.30,119.70 L367.31,119.99 L368.32,120.29 L369.33,120.57 L370.34,120.86 L371.34,121.14 L372.35,121.42 L373.36,121.70 L374.37,121.98 L375.38,122.25 L376.39,122.52 L377.40,122.79 L378.41,123.05 L379.42,123.31 L380.42,123.57 L381.43,123.82 L382.44,124.07 L383.45,124.32 L384.46,124.57 L385.47,124.81 L386.48,125.05 L387.49,125.29 L388.50,125.52 L389.51,125.75 L390.52,125.97 L391.48,121.68 L390.48,121.46 L389.48,121.23 L388.49,121.00 L387.49,120.77 L386.49,120.53 L385.50,120.29 L384.50,120.05 L383.50,119.80 L382.51,119.56 L381.51,119.30 L380.51,119.05 L379.51,118.79 L378.52,118.53 L377.52,118.27 L376.52,118.00 L375.52,117.73 L374.52,117.46 L373.53,117.18 L372.53,116.90 L371.53,116.62 L370.53,116.34 L369.53,116.06 L368.53,115.77 L367.54,115.48 L366.54,115.18 L365.54,114.89 L364.54,114.59 L363.54,114.29 L362.54,113.99 L361.54,113.69 L360.54,113.38 L359.54,113.07 L358.54,112.76 L357.55,112.45 L356.55,112.13 L355.55,111.81 L354.55,111.49 L353.55,111.17 L352.56,110.84 L351.56,110.51 L350.56,110.18 L349.57,109.84 L348.57,109.50 L347.58,109.16 L346.58,108.81 L345.58,108.46 L344.59,108.10 L343.59,107.74 L342.60,107.37 L341.61,107.00 L340.61,106.62 L339.62,106.24 L338.62,105.86 L337.63,105.47 L336.64,105.07 L335.65,104.66 L334.65,104.26 L333.66,103.84 L332.67,103.42 L331.68,102.99 L330.69,102.56 L329.69,102.11 L328.70,101.67 L327.71,101.21 L326.72,100.74 L325.73,100.27 L324.74,99.79 L323.75,99.30 L322.76,98.81 L321.77,98.31 L320.78,97.79 L319.78,97.28 L318.79,96.75 L317.80,96.22 L316.81,95.67 L315.82,95.13 L314.82,94.57 L313.83,94.00 L312.84,93.43 L311.85,92.85 L310.86,92.26 L309.86,91.66 L308.87,91.06 L307.88,90.45 L306.89,89.83 L305.89,89.20 L304.90,88.56 L303.91,87.92 L302.92,87.26 L301.93,86.61 L300.95,85.93 L299.97,85.24 L298.98,84.53 L298.00,83.81 L297.01,83.07 L296.03,82.31 L295.04,81.53 L294.05,80.74 L293.06,79.94 L292.07,79.13 L291.08,78.30 L290.08,77.46 L289.09,76.61 L288.10,75.75 L287.10,74.88 L286.10,74.00 L285.11,73.11 L284.11,72.22 L283.11,71.31 L282.11,70.41 L281.11,69.49 L280.11,68.58 L279.11,67.65 L278.11,66.73 L277.11,65.80 L276.11,64.87 L275.10,63.94 L274.10,63.01 L273.10,62.08 L272.10,61.15 L271.10,60.22 L270.10,59.28 L269.10,58.34 L268.11,57.38 L267.11,56.42 L266.11,55.46 L265.11,54.49 L264.11,53.51 L263.12,52.52 L262.12,51.53 L261.06,50.59 L259.99,49.66 L258.92,48.72 L257.84,47.77 L256.77,46.81 L255.70,45.85 L254.63,44.89 L253.55,43.91 L252.48,42.93 L251.41,41.95 L250.33,40.95 L249.26,39.96 L248.18,38.95 L247.11,37.94 L246.03,36.92 L244.95,35.90 L243.88,34.87 L242.80,33.84 L241.72,32.80 Z" fill="#7a4a5c" />
<path d="M241.50,33.00 L242.50,34.11 L243.43,35.28 L244.36,36.44 L245.29,37.61 L246.22,38.76 L247.15,39.91 L248.08,41.06 L249.01,42.20 L249.94,43.33 L250.88,44.46 L251.81,45.58 L252.74,46.70 L253.67,47.81 L254.61,48.92 L255.54,50.02 L256.48,51.12 L257.41,52.21 L258.35,53.29 L259.33,54.33 L260.34,55.33 L261.34,56.32 L262.35,57.31 L263.36,58.29 L264.37,59.27 L265.37,60.24 L266.38,61.20 L267.39,62.15 L268.40,63.10 L269.40,64.04 L270.41,64.98 L271.41,65.91 L272.42,66.84 L273.42,67.77 L274.42,68.70 L275.43,69.63 L276.43,70.56 L277.44,71.48 L278.45,72.41 L279.45,73.33 L280.46,74.24 L281.47,75.15 L282.47,76.06 L283.48,76.95 L284.49,77.85 L285.50,78.73 L286.51,79.60 L287.52,80.47 L288.54,81.32 L289.55,82.17 L290.56,83.00 L291.57,83.82 L292.59,84.63 L293.61,85.43 L294.62,86.21 L295.64,86.98 L296.66,87.73 L297.68,88.46 L298.70,89.18 L299.72,89.88 L300.73,90.56 L301.75,91.22 L302.76,91.88 L303.77,92.53 L304.78,93.17 L305.79,93.80 L306.81,94.43 L307.82,95.04 L308.83,95.65 L309.84,96.25 L310.86,96.84 L311.87,97.43 L312.88,98.01 L313.89,98.57 L314.90,99.14 L315.92,99.69 L316.93,100.23 L317.94,100.77 L318.96,101.30 L319.97,101.82 L320.98,102.34 L321.99,102.84 L323.01,103.34 L324.02,103.83 L325.03,104.31 L326.05,104.79 L327.06,105.26 L328.07,105.72 L329.09,106.17 L330.10,106.61 L331.11,107.05 L332.13,107.48 L333.14,107.90 L334.15,108.32 L335.16,108.73 L336.17,109.14 L337.18,109.53 L338.20,109.93 L339.21,110.32 L340.22,110.70 L341.23,111.08 L342.24,111.45 L343.25,111.81 L344.26,112.18 L345.27,112.53 L346.28,112.89 L347.29,113.24 L348.30,113.58 L349.30,113.92 L350.31,114.26 L351.32,114.59 L352.33,114.92 L353.34,115.25 L354.35,115.58 L355.35,115.90 L356.36,116.22 L357.37,116.53 L358.37,116.84 L359.38,117.15 L360.39,117.46 L361.39,117.77 L362.40,118.07 L363.41,118.38 L364.41,118.68 L365.42,118.97 L366.43,119.27 L367.44,119.56 L368.44,119.85 L369.45,120.14 L370.46,120.43 L371.47,120.71 L372.47,120.99 L373.48,121.27 L374.49,121.54 L375.50,121.81 L376.50,122.08 L377.51,122.35 L378.52,122.61 L379.53,122.87 L380.54,123.13 L381.54,123.39 L382.55,123.64 L383.56,123.89 L384.57,124.13 L385.58,124.37 L386.59,124.61 L387.59,124.85 L388.60,125.08 L389.61,125.31 L390.62,125.53 L391.38,122.12 L390.38,121.90 L389.38,121.67 L388.39,121.44 L387.39,121.21 L386.39,120.97 L385.39,120.73 L384.39,120.49 L383.39,120.24 L382.40,119.99 L381.40,119.74 L380.40,119.48 L379.40,119.23 L378.40,118.96 L377.40,118.70 L376.40,118.43 L375.40,118.16 L374.41,117.89 L373.41,117.62 L372.41,117.34 L371.41,117.06 L370.41,116.77 L369.41,116.49 L368.41,116.20 L367.41,115.91 L366.41,115.62 L365.41,115.32 L364.41,115.02 L363.41,114.72 L362.41,114.42 L361.41,114.12 L360.41,113.81 L359.41,113.50 L358.41,113.19 L357.41,112.88 L356.41,112.56 L355.41,112.24 L354.41,111.92 L353.41,111.60 L352.42,111.27 L351.42,110.94 L350.42,110.61 L349.42,110.27 L348.42,109.93 L347.43,109.58 L346.43,109.23 L345.43,108.88 L344.44,108.52 L343.44,108.16 L342.44,107.79 L341.45,107.42 L340.45,107.05 L339.46,106.66 L338.46,106.28 L337.46,105.88 L336.47,105.49 L335.47,105.08 L334.48,104.67 L333.49,104.26 L332.49,103.83 L331.50,103.40 L330.50,102.97 L329.51,102.53 L328.52,102.07 L327.52,101.62 L326.53,101.15 L325.54,100.68 L324.54,100.20 L323.55,99.71 L322.56,99.21 L321.56,98.71 L320.57,98.19 L319.57,97.67 L318.58,97.15 L317.59,96.61 L316.59,96.07 L315.60,95.52 L314.60,94.96 L313.61,94.39 L312.61,93.82 L311.62,93.24 L310.63,92.65 L309.63,92.05 L308.64,91.44 L307.64,90.83 L306.65,90.21 L305.65,89.58 L304.66,88.94 L303.66,88.29 L302.67,87.64 L301.68,86.98 L300.69,86.30 L299.71,85.61 L298.72,84.90 L297.73,84.17 L296.74,83.42 L295.75,82.66 L294.76,81.89 L293.77,81.10 L292.77,80.29 L291.78,79.47 L290.79,78.64 L289.79,77.80 L288.80,76.95 L287.80,76.09 L286.80,75.22 L285.81,74.34 L284.81,73.45 L283.81,72.55 L282.81,71.65 L281.81,70.74 L280.81,69.83 L279.81,68.91 L278.81,67.98 L277.81,67.06 L276.80,66.13 L275.80,65.20 L274.80,64.27 L273.79,63.34 L272.79,62.41 L271.79,61.48 L270.79,60.55 L269.79,59.61 L268.79,58.66 L267.79,57.71 L266.80,56.75 L265.80,55.78 L264.80,54.81 L263.80,53.83 L262.80,52.84 L261.80,51.85 L260.77,50.87 L259.70,49.94 L258.63,49.00 L257.56,48.05 L256.49,47.09 L255.41,46.13 L254.34,45.16 L253.26,44.19 L252.19,43.21 L251.12,42.22 L250.04,41.23 L248.97,40.23 L247.89,39.22 L246.81,38.21 L245.74,37.19 L244.66,36.17 L243.58,35.14 L242.50,34.11 L241.50,33.00 Z" fill="#f26c76" />
<path d="M241.50,33.00 L242.50,34.11 L243.51,35.21 L244.51,36.31 L245.51,37.40 L246.52,38.49 L247.52,39.57 L248.52,40.64 L249.53,41.71 L250.53,42.78 L251.53,43.83 L252.54,44.89 L253.54,45.93 L254.54,46.97 L255.55,48.01 L256.55,49.03 L257.55,50.06 L258.56,51.07 L259.56,52.08 L260.56,53.09 L261.57,54.08 L262.57,55.07 L263.57,56.06 L264.58,57.04 L265.58,58.01 L266.58,58.97 L267.59,59.93 L268.59,60.88 L269.59,61.83 L270.60,62.76 L271.60,63.69 L272.60,64.62 L273.61,65.55 L274.61,66.48 L275.61,67.41 L276.62,68.34 L277.62,69.27 L278.62,70.19 L279.63,71.12 L280.63,72.03 L281.63,72.94 L282.64,73.85 L283.64,74.75 L284.64,75.64 L285.65,76.53 L286.65,77.41 L287.65,78.28 L288.66,79.14 L289.66,79.98 L290.66,80.82 L291.67,81.65 L292.67,82.46 L293.67,83.26 L294.68,84.05 L295.68,84.82 L296.68,85.57 L297.69,86.31 L298.69,87.04 L299.69,87.74 L300.70,88.43 L301.70,89.10 L302.70,89.76 L303.71,90.41 L304.71,91.05 L305.71,91.69 L306.72,92.32 L307.72,92.93 L308.72,93.55 L309.73,94.15 L310.73,94.74 L311.73,95.33 L312.74,95.91 L313.74,96.48 L314.74,97.05 L315.75,97.60 L316.75,98.15 L317.76,98.69 L318.76,99.22 L319.76,99.75 L320.77,100.26 L321.77,100.77 L322.77,101.27 L323.78,101.77 L324.78,102.25 L325.78,102.73 L326.79,103.20 L327.79,103.67 L328.79,104.12 L329.80,104.57 L330.80,105.01 L331.80,105.44 L332.81,105.87 L333.81,106.29 L334.81,106.70 L335.82,107.11 L336.82,107.51 L337.82,107.91 L338.83,108.30 L339.83,108.68 L340.83,109.06 L341.84,109.43 L342.84,109.80 L343.84,110.17 L344.85,110.53 L345.85,110.88 L346.85,111.24 L347.86,111.58 L348.86,111.93 L349.86,112.26 L350.87,112.60 L351.87,112.93 L352.87,113.26 L353.88,113.59 L354.88,113.91 L355.88,114.23 L356.89,114.55 L357.89,114.86 L358.89,115.17 L359.90,115.48 L360.90,115.79 L361.90,116.10 L362.91,116.40 L363.91,116.70 L364.91,117.00 L365.92,117.30 L366.92,117.59 L367.92,117.88 L368.93,118.17 L369.93,118.46 L370.93,118.74 L371.94,119.02 L372.94,119.30 L373.94,119.58 L374.95,119.85 L375.95,120.12 L376.95,120.39 L377.96,120.66 L378.96,120.92 L379.96,121.18 L380.97,121.44 L381.97,121.69 L382.97,121.94 L383.98,122.19 L384.98,122.43 L385.98,122.67 L386.99,122.91 L387.99,123.14 L388.99,123.37 L390.00,123.60 L391.00,123.83" fill="none" stroke="#a04890" stroke-width="0.8" stroke-dasharray="1.2,0.8"/>
<line x1="241.50" y1="32.70" x2="241.50" y2="133.30" stroke="#1a1a1a" stroke-width="1.3"/>
<line x1="240.90" y1="132.70" x2="391.60" y2="132.70" stroke="#1a1a1a" stroke-width="1.3"/>
<line x1="237.50" y1="132.70" x2="241.50" y2="132.70" stroke="#1a1a1a" stroke-width="1.1"/>
<text x="235.60" y="135.20" font-family='"Liberation Serif", serif' font-size="7.2" font-weight="bold" text-anchor="end" fill="#1a1a1a">0</text>
<line x1="237.50" y1="107.77" x2="241.50" y2="107.77" stroke="#1a1a1a" stroke-width="1.1"/>
<text x="235.60" y="110.27" font-family='"Liberation Serif", serif' font-size="7.2" font-weight="bold" text-anchor="end" fill="#1a1a1a">25</text>
<line x1="237.50" y1="82.85" x2="241.50" y2="82.85" stroke="#1a1a1a" stroke-width="1.1"/>
<text x="235.60" y="85.35" font-family='"Liberation Serif", serif' font-size="7.2" font-weight="bold" text-anchor="end" fill="#1a1a1a">50</text>
<line x1="237.50" y1="57.92" x2="241.50" y2="57.92" stroke="#1a1a1a" stroke-width="1.1"/>
<text x="235.60" y="60.42" font-family='"Liberation Serif", serif' font-size="7.2" font-weight="bold" text-anchor="end" fill="#1a1a1a">75</text>
<line x1="237.50" y1="33.00" x2="241.50" y2="33.00" stroke="#1a1a1a" stroke-width="1.1"/>
<text x="235.60" y="35.50" font-family='"Liberation Serif", serif' font-size="7.2" font-weight="bold" text-anchor="end" fill="#1a1a1a">100</text>
<line x1="241.50" y1="132.70" x2="241.50" y2="136.40" stroke="#1a1a1a" stroke-width="1.1"/>
<text x="241.50" y="146.10" font-family='"Liberation Serif", serif' font-size="7.2" font-weight="bold" text-anchor="middle" fill="#1a1a1a">0</text>
<line x1="271.40" y1="132.70" x2="271.40" y2="136.40" stroke="#1a1a1a" stroke-width="1.1"/>
<text x="271.40" y="146.10" font-family='"Liberation Serif", serif' font-size="7.2" font-weight="bold" text-anchor="middle" fill="#1a1a1a">3</text>
<line x1="301.30" y1="132.70" x2="301.30" y2="136.40" stroke="#1a1a1a" stroke-width="1.1"/>
<text x="301.30" y="146.10" font-family='"Liberation Serif", serif' font-size="7.2" font-weight="bold" text-anchor="middle" fill="#1a1a1a">6</text>
<line x1="331.20" y1="132.70" x2="331.20" y2="136.40" stroke="#1a1a1a" stroke-width="1.1"/>
<text x="331.20" y="146.10" font-family='"Liberation Serif", serif' font-size="7.2" font-weight="bold" text-anchor="middle" fill="#1a1a1a">9</text>
<line x1="361.10" y1="132.70" x2="361.10" y2="136.40" stroke="#1a1a1a" stroke-width="1.1"/>
<text x="361.10" y="146.10" font-family='"Liberation Serif", serif' font-size="7.2" font-weight="bold" text-anchor="middle" fill="#1a1a1a">12</text>
<line x1="391.00" y1="132.70" x2="391.00" y2="136.40" stroke="#1a1a1a" stroke-width="1.1"/>
<text x="391.00" y="146.10" font-family='"Liberation Serif", serif' font-size="7.2" font-weight="bold" text-anchor="middle" fill="#1a1a1a">15</text>
<text x="291.40" y="157.8" font-family='"Liberation Serif", serif' font-size="8.0" font-weight="bold">Time<tspan dx="4.6">(hour)</tspan></text>
<text x="220.40" y="81.50" font-family='"Liberation Serif", serif' font-size="8.0" font-weight="bold" text-anchor="middle" fill="#000" transform="rotate(-90 220.4 81.5)">PKM2 mRNA(%)</text>
<circle cx="241.50" cy="33.00" r="1.5" fill="#b0702f"/>
<line x1="271.40" y1="84.84" x2="271.40" y2="72.88" stroke="#d09060" stroke-width="0.7"/>
<line x1="270.00" y1="84.84" x2="272.80" y2="84.84" stroke="#d09060" stroke-width="0.7"/>
<line x1="270.00" y1="72.88" x2="272.80" y2="72.88" stroke="#d09060" stroke-width="0.7"/>
<circle cx="271.40" cy="78.86" r="1.5" fill="#b0702f"/>
<line x1="301.30" y1="109.77" x2="301.30" y2="98.80" stroke="#d09060" stroke-width="0.7"/>
<line x1="299.90" y1="109.77" x2="302.70" y2="109.77" stroke="#d09060" stroke-width="0.7"/>
<line x1="299.90" y1="98.80" x2="302.70" y2="98.80" stroke="#d09060" stroke-width="0.7"/>
<circle cx="301.30" cy="104.29" r="1.5" fill="#b0702f"/>
<line x1="331.20" y1="121.73" x2="331.20" y2="112.76" stroke="#d09060" stroke-width="0.7"/>
<line x1="329.80" y1="121.73" x2="332.60" y2="121.73" stroke="#d09060" stroke-width="0.7"/>
<line x1="329.80" y1="112.76" x2="332.60" y2="112.76" stroke="#d09060" stroke-width="0.7"/>
<circle cx="331.20" cy="117.25" r="1.5" fill="#b0702f"/>
<line x1="361.10" y1="128.01" x2="361.10" y2="126.02" stroke="#d09060" stroke-width="0.7"/>
<line x1="359.70" y1="128.01" x2="362.50" y2="128.01" stroke="#d09060" stroke-width="0.7"/>
<line x1="359.70" y1="126.02" x2="362.50" y2="126.02" stroke="#d09060" stroke-width="0.7"/>
<circle cx="361.10" cy="127.02" r="1.5" fill="#b0702f"/>
<line x1="391.00" y1="131.40" x2="391.00" y2="130.21" stroke="#d09060" stroke-width="0.7"/>
<line x1="389.60" y1="131.40" x2="392.40" y2="131.40" stroke="#d09060" stroke-width="0.7"/>
<line x1="389.60" y1="130.21" x2="392.40" y2="130.21" stroke="#d09060" stroke-width="0.7"/>
<circle cx="391.00" cy="130.81" r="1.5" fill="#b0702f"/>
<path d="M239.90,34.20 L241.50,31.40 L243.10,34.20 Z" fill="#ff8a1a"/>
<line x1="271.40" y1="60.92" x2="271.40" y2="54.93" stroke="#c040c0" stroke-width="0.7"/>
<line x1="270.00" y1="60.92" x2="272.80" y2="60.92" stroke="#c040c0" stroke-width="0.7"/>
<line x1="270.00" y1="54.93" x2="272.80" y2="54.93" stroke="#c040c0" stroke-width="0.7"/>
<path d="M269.80,59.12 L271.40,56.32 L273.00,59.12 Z" fill="#ff8a1a"/>
<line x1="301.30" y1="97.11" x2="301.30" y2="89.13" stroke="#c040c0" stroke-width="0.7"/>
<line x1="299.90" y1="97.11" x2="302.70" y2="97.11" stroke="#c040c0" stroke-width="0.7"/>
<line x1="299.90" y1="89.13" x2="302.70" y2="89.13" stroke="#c040c0" stroke-width="0.7"/>
<path d="M299.70,94.32 L301.30,91.52 L302.90,94.32 Z" fill="#ff8a1a"/>
<line x1="331.20" y1="108.57" x2="331.20" y2="104.58" stroke="#c040c0" stroke-width="0.7"/>
<line x1="329.80" y1="108.57" x2="332.60" y2="108.57" stroke="#c040c0" stroke-width="0.7"/>
<line x1="329.80" y1="104.58" x2="332.60" y2="104.58" stroke="#c040c0" stroke-width="0.7"/>
<path d="M329.60,107.78 L331.20,104.98 L332.80,107.78 Z" fill="#ff8a1a"/>
<line x1="361.10" y1="118.74" x2="361.10" y2="116.75" stroke="#c040c0" stroke-width="0.7"/>
<line x1="359.70" y1="118.74" x2="362.50" y2="118.74" stroke="#c040c0" stroke-width="0.7"/>
<line x1="359.70" y1="116.75" x2="362.50" y2="116.75" stroke="#c040c0" stroke-width="0.7"/>
<path d="M359.50,118.94 L361.10,116.14 L362.70,118.94 Z" fill="#ff8a1a"/>
<line x1="391.00" y1="126.02" x2="391.00" y2="123.03" stroke="#c040c0" stroke-width="0.7"/>
<line x1="389.60" y1="126.02" x2="392.40" y2="126.02" stroke="#c040c0" stroke-width="0.7"/>
<line x1="389.60" y1="123.03" x2="392.40" y2="123.03" stroke="#c040c0" stroke-width="0.7"/>
<path d="M389.40,125.72 L391.00,122.92 L392.60,125.72 Z" fill="#ff8a1a"/>
<line x1="348.80" y1="31.10" x2="359.60" y2="31.10" stroke="#a8f0f4" stroke-width="1.6"/>
<circle cx="354.20" cy="31.10" r="1.4" fill="#b0702f"/>
<text x="365.30" y="33.00" font-family='"Liberation Serif", serif' font-size="5.3" font-weight="bold" text-anchor="start" fill="#222">sh-NC</text>
<line x1="348.80" y1="38.30" x2="359.60" y2="38.30" stroke="#c040c0" stroke-width="1.0"/>
<circle cx="354.20" cy="38.30" r="1.4" fill="#ff8a1a"/>
<text x="365.30" y="40.20" font-family='"Liberation Serif", serif' font-size="5.3" font-weight="bold" text-anchor="start" fill="#222">sh-YTHDF2</text>
<text x="349.10" y="51.00" font-family='"Liberation Serif", serif' font-size="5.3" font-weight="bold" fill="#222">t<tspan font-size="3.4" dy="1.3">1/2</tspan><tspan dy="-1.3"> ( sh-NC ) = 3.60</tspan></text>
<text x="349.10" y="58.20" font-family='"Liberation Serif", serif' font-size="5.3" font-weight="bold" fill="#222">t<tspan font-size="3.4" dy="1.3">1/2</tspan><tspan dy="-1.3"> ( sh-YTHDF2 ) = 6.55</tspan></text>
<rect x="464.7" y="24.2" width="65.00000000000006" height="64.89999999999999" fill="url(#gg)"/>
<rect x="464.7" y="93.8" width="64.70000000000006" height="64.10000000000001" fill="#24a3c6"/>
<rect x="464.7" y="93.8" width="64.70000000000006" height="64.10000000000001" fill="url(#bg)"/>
<ellipse cx="476.00" cy="102.50" rx="3.2" ry="3.0" fill="#ffffff" fill-opacity="0.04" stroke="#ffffff" stroke-opacity="0.07" stroke-width="0.6"/>
<ellipse cx="496.50" cy="103.50" rx="3.2" ry="3.0" fill="#ffffff" fill-opacity="0.04" stroke="#ffffff" stroke-opacity="0.07" stroke-width="0.6"/>
<ellipse cx="518.00" cy="104.50" rx="3.2" ry="3.0" fill="#ffffff" fill-opacity="0.04" stroke="#ffffff" stroke-opacity="0.07" stroke-width="0.6"/>
<ellipse cx="476.00" cy="123.50" rx="3.2" ry="3.0" fill="#ffffff" fill-opacity="0.04" stroke="#ffffff" stroke-opacity="0.07" stroke-width="0.6"/>
<ellipse cx="497.00" cy="124.00" rx="3.2" ry="3.0" fill="#ffffff" fill-opacity="0.04" stroke="#ffffff" stroke-opacity="0.07" stroke-width="0.6"/>
<ellipse cx="518.00" cy="124.50" rx="3.2" ry="3.0" fill="#ffffff" fill-opacity="0.04" stroke="#ffffff" stroke-opacity="0.07" stroke-width="0.6"/>
<ellipse cx="474.90" cy="33.40" rx="3.9" ry="3.3" fill="#0c0c0c" filter="url(#b05)"/>
<ellipse cx="475.20" cy="33.60" rx="2.15" ry="1.65" fill="#2a2a2a" filter="url(#b05)"/>
<ellipse cx="496.20" cy="35.20" rx="3.8" ry="3.3" fill="#333333" filter="url(#b05)"/>
<ellipse cx="496.50" cy="35.40" rx="2.09" ry="1.65" fill="#909090" filter="url(#b05)"/>
<ellipse cx="517.80" cy="35.60" rx="3.6" ry="3.2" fill="#5a5a5a" filter="url(#b05)"/>
<ellipse cx="518.10" cy="35.80" rx="1.98" ry="1.60" fill="#8c8c8c" filter="url(#b05)"/>
<ellipse cx="474.90" cy="54.70" rx="4.2" ry="3.5" fill="#080808" filter="url(#b05)"/>
<ellipse cx="475.20" cy="54.90" rx="2.31" ry="1.75" fill="#222222" filter="url(#b05)"/>
<ellipse cx="496.80" cy="54.30" rx="3.7" ry="3.2" fill="#262626" filter="url(#b05)"/>
<ellipse cx="497.10" cy="54.50" rx="2.04" ry="1.60" fill="#505050" filter="url(#b05)"/>
<ellipse cx="517.80" cy="52.80" rx="3.5" ry="3.1" fill="#a8a8a8" filter="url(#b05)"/>
<ellipse cx="518.10" cy="53.00" rx="1.93" ry="1.55" fill="#cccccc" filter="url(#b05)"/>
<ellipse cx="475.40" cy="75.30" rx="3.8" ry="3.1" fill="#6a6a6a" filter="url(#b05)"/>
<ellipse cx="475.70" cy="75.50" rx="2.09" ry="1.55" fill="#a0a0a0" filter="url(#b05)"/>
<ellipse cx="497.30" cy="75.70" rx="3.6" ry="3.0" fill="#c4c4c4" filter="url(#b05)"/>
<ellipse cx="497.60" cy="75.90" rx="1.98" ry="1.50" fill="#f0f0f0" filter="url(#b05)"/>
<ellipse cx="518.40" cy="75.30" rx="3.5" ry="3.0" fill="#d2d2d2" filter="url(#b05)"/>
<text x="535.80" y="38.60" font-family='"Liberation Serif", serif' font-size="5.9" font-weight="bold" text-anchor="start" fill="#000">400ng</text>
<text x="535.80" y="107.60" font-family='"Liberation Serif", serif' font-size="5.9" font-weight="bold" text-anchor="start" fill="#000">400ng</text>
<text x="535.80" y="57.50" font-family='"Liberation Serif", serif' font-size="5.9" font-weight="bold" text-anchor="start" fill="#000">200ng</text>
<text x="535.80" y="127.80" font-family='"Liberation Serif", serif' font-size="5.9" font-weight="bold" text-anchor="start" fill="#000">200ng</text>
<text x="535.80" y="78.20" font-family='"Liberation Serif", serif' font-size="5.9" font-weight="bold" text-anchor="start" fill="#000">100ng</text>
<text x="535.80" y="147.40" font-family='"Liberation Serif", serif' font-size="5.9" font-weight="bold" text-anchor="start" fill="#000">100ng</text>
<text x="443.00" y="59.70" font-family='"Liberation Serif", serif' font-size="5.9" font-weight="bold">m<tspan font-size="3.8" dy="-2">6</tspan><tspan dy="2">A</tspan></text>
<text x="444.40" y="128.20" font-family='"Liberation Serif", serif' font-size="5.9" font-weight="bold" text-anchor="start" fill="#000">MB</text>
<text x="477.00" y="18.00" font-family='"Liberation Serif", serif' font-size="5.6" font-weight="bold" text-anchor="start" fill="#000" transform="rotate(-45 477.0 18.0)">shFTO-1</text>
<text x="498.30" y="18.00" font-family='"Liberation Serif", serif' font-size="5.6" font-weight="bold" text-anchor="start" fill="#000" transform="rotate(-45 498.3 18.0)">shFTO-2</text>
<text x="519.90" y="18.00" font-family='"Liberation Serif", serif' font-size="5.6" font-weight="bold" text-anchor="start" fill="#000" transform="rotate(-45 519.9 18.0)">sh-NC</text>
<text x="487.20" y="168.90" font-family='"Liberation Serif", serif' font-size="6.2" font-weight="bold" text-anchor="start" fill="#000">CAL27</text>
<rect x="593.7" y="24.7" width="64.5" height="64.1" fill="url(#gg2)"/>
<rect x="593.7" y="93.1" width="64.2" height="64.4" fill="#3aabd0"/>
<rect x="593.7" y="93.1" width="64.2" height="64.4" fill="url(#bg)"/>
<ellipse cx="605.50" cy="103.70" rx="3.2" ry="3.0" fill="#ffffff" fill-opacity="0.04" stroke="#ffffff" stroke-opacity="0.07" stroke-width="0.6"/>
<ellipse cx="625.50" cy="103.70" rx="3.2" ry="3.0" fill="#ffffff" fill-opacity="0.04" stroke="#ffffff" stroke-opacity="0.07" stroke-width="0.6"/>
<ellipse cx="647.00" cy="104.80" rx="3.2" ry="3.0" fill="#ffffff" fill-opacity="0.04" stroke="#ffffff" stroke-opacity="0.07" stroke-width="0.6"/>
<ellipse cx="604.00" cy="122.00" rx="3.2" ry="3.0" fill="#ffffff" fill-opacity="0.04" stroke="#ffffff" stroke-opacity="0.07" stroke-width="0.6"/>
<ellipse cx="626.00" cy="123.00" rx="3.2" ry="3.0" fill="#ffffff" fill-opacity="0.04" stroke="#ffffff" stroke-opacity="0.07" stroke-width="0.6"/>
<ellipse cx="604.40" cy="34.40" rx="3.3" ry="2.9" fill="#080808" filter="url(#b05)"/>
<ellipse cx="624.80" cy="35.30" rx="3.3" ry="3.0" fill="#868686" filter="url(#b05)"/>
<ellipse cx="645.70" cy="36.10" rx="3.3" ry="2.9" fill="#d0d0d0" filter="url(#b05)"/>
<ellipse cx="604.40" cy="54.30" rx="3.4" ry="2.7" fill="#7e7e7e" filter="url(#b05)"/>
<ellipse cx="625.00" cy="54.40" rx="3.3" ry="2.9" fill="#9a9a9a" filter="url(#b05)"/>
<ellipse cx="646.80" cy="53.10" rx="3.2" ry="2.9" fill="#d2d2d2" filter="url(#b05)"/>
<ellipse cx="604.40" cy="73.50" rx="3.2" ry="2.8" fill="#939393" filter="url(#b05)"/>
<ellipse cx="625.50" cy="74.30" rx="3.2" ry="2.8" fill="#dcdcdc" filter="url(#b05)"/>
<text x="664.80" y="38.60" font-family='"Liberation Serif", serif' font-size="5.9" font-weight="bold" text-anchor="start" fill="#000">400ng</text>
<text x="664.80" y="107.60" font-family='"Liberation Serif", serif' font-size="5.9" font-weight="bold" text-anchor="start" fill="#000">400ng</text>
<text x="664.80" y="57.50" font-family='"Liberation Serif", serif' font-size="5.9" font-weight="bold" text-anchor="start" fill="#000">200ng</text>
<text x="664.80" y="127.80" font-family='"Liberation Serif", serif' font-size="5.9" font-weight="bold" text-anchor="start" fill="#000">200ng</text>
<text x="664.80" y="78.20" font-family='"Liberation Serif", serif' font-size="5.9" font-weight="bold" text-anchor="start" fill="#000">100ng</text>
<text x="664.80" y="147.40" font-family='"Liberation Serif", serif' font-size="5.9" font-weight="bold" text-anchor="start" fill="#000">100ng</text>
<text x="573.20" y="59.70" font-family='"Liberation Serif", serif' font-size="5.9" font-weight="bold">m<tspan font-size="3.8" dy="-2">6</tspan><tspan dy="2">A</tspan></text>
<text x="573.20" y="128.20" font-family='"Liberation Serif", serif' font-size="5.9" font-weight="bold" text-anchor="start" fill="#000">MB</text>
<text x="605.20" y="18.00" font-family='"Liberation Serif", serif' font-size="5.6" font-weight="bold" text-anchor="start" fill="#000" transform="rotate(-45 605.2 18.0)">shFTO-1</text>
<text x="625.60" y="18.00" font-family='"Liberation Serif", serif' font-size="5.6" font-weight="bold" text-anchor="start" fill="#000" transform="rotate(-45 625.6 18.0)">shFTO-2</text>
<text x="646.50" y="18.00" font-family='"Liberation Serif", serif' font-size="5.6" font-weight="bold" text-anchor="start" fill="#000" transform="rotate(-45 646.5000000000001 18.0)">sh-NC</text>
<text x="616.00" y="168.90" font-family='"Liberation Serif", serif' font-size="6.2" font-weight="bold" text-anchor="start" fill="#000">SCC25</text>
<text x="112.00" y="224.90" font-family='"Liberation Serif", serif' font-size="11.6" font-weight="bold" text-anchor="start" fill="#000">SCC25</text>
<line x1="51.50" y1="241.60" x2="51.50" y2="364.60" stroke="#1a1a1a" stroke-width="1.4"/>
<line x1="50.90" y1="364.00" x2="206.50" y2="364.00" stroke="#1a1a1a" stroke-width="1.4"/>
<line x1="47.30" y1="364.00" x2="51.50" y2="364.00" stroke="#1a1a1a" stroke-width="1.2"/>
<text x="45.20" y="367.00" font-family='"Liberation Sans", sans-serif' font-size="8.4" font-weight="bold" text-anchor="end" fill="#000">0</text>
<line x1="47.30" y1="333.50" x2="51.50" y2="333.50" stroke="#1a1a1a" stroke-width="1.2"/>
<text x="45.20" y="336.50" font-family='"Liberation Sans", sans-serif' font-size="8.4" font-weight="bold" text-anchor="end" fill="#000">20</text>
<line x1="47.30" y1="303.00" x2="51.50" y2="303.00" stroke="#1a1a1a" stroke-width="1.2"/>
<text x="45.20" y="306.00" font-family='"Liberation Sans", sans-serif' font-size="8.4" font-weight="bold" text-anchor="end" fill="#000">40</text>
<line x1="47.30" y1="272.50" x2="51.50" y2="272.50" stroke="#1a1a1a" stroke-width="1.2"/>
<text x="45.20" y="275.50" font-family='"Liberation Sans", sans-serif' font-size="8.4" font-weight="bold" text-anchor="end" fill="#000">60</text>
<line x1="47.30" y1="242.00" x2="51.50" y2="242.00" stroke="#1a1a1a" stroke-width="1.2"/>
<text x="45.20" y="245.00" font-family='"Liberation Sans", sans-serif' font-size="8.4" font-weight="bold" text-anchor="end" fill="#000">80</text>
<line x1="51.50" y1="364.00" x2="51.50" y2="368.20" stroke="#1a1a1a" stroke-width="1.2"/>
<text x="51.50" y="379.50" font-family='"Liberation Sans", sans-serif' font-size="8.4" font-weight="bold" text-anchor="middle" fill="#000">0</text>
<line x1="90.10" y1="364.00" x2="90.10" y2="368.20" stroke="#1a1a1a" stroke-width="1.2"/>
<text x="90.10" y="379.50" font-family='"Liberation Sans", sans-serif' font-size="8.4" font-weight="bold" text-anchor="middle" fill="#000">30</text>
<line x1="128.70" y1="364.00" x2="128.70" y2="368.20" stroke="#1a1a1a" stroke-width="1.2"/>
<text x="128.70" y="379.50" font-family='"Liberation Sans", sans-serif' font-size="8.4" font-weight="bold" text-anchor="middle" fill="#000">60</text>
<line x1="167.30" y1="364.00" x2="167.30" y2="368.20" stroke="#1a1a1a" stroke-width="1.2"/>
<text x="167.30" y="379.50" font-family='"Liberation Sans", sans-serif' font-size="8.4" font-weight="bold" text-anchor="middle" fill="#000">90</text>
<line x1="205.90" y1="364.00" x2="205.90" y2="368.20" stroke="#1a1a1a" stroke-width="1.2"/>
<text x="205.90" y="379.50" font-family='"Liberation Sans", sans-serif' font-size="8.4" font-weight="bold" text-anchor="middle" fill="#000">120</text>
<text x="129.00" y="393.10" font-family='"Liberation Sans", sans-serif' font-size="9.6" font-weight="bold" text-anchor="middle" fill="#000">Time(min)</text>
<text x="28.40" y="303.00" font-family='"Liberation Sans", sans-serif' font-size="9.7" font-weight="bold" text-anchor="middle" fill="#000" transform="rotate(-90 28.4 303.0)">ECAR(mpH/min)</text>
<path d="M51.50,336.55 L59.22,337.77 L66.94,337.31 L74.66,337.47 L82.38,337.47 L97.82,331.37 L105.54,331.37 L113.26,329.99 L120.98,329.84 L128.70,311.24 L136.42,311.24 L144.14,312.15 L151.86,312.45 L164.73,356.83 L168.84,357.14 L173.99,357.14 L184.03,357.90" fill="none" stroke="#2b2bff" stroke-width="1.0"/>
<circle cx="51.50" cy="336.55" r="2.1" fill="#1f1ff5"/>
<circle cx="59.22" cy="337.77" r="2.1" fill="#1f1ff5"/>
<circle cx="66.94" cy="337.31" r="2.1" fill="#1f1ff5"/>
<circle cx="74.66" cy="337.47" r="2.1" fill="#1f1ff5"/>
<circle cx="82.38" cy="337.47" r="2.1" fill="#1f1ff5"/>
<line x1="97.82" y1="333.81" x2="97.82" y2="328.93" stroke="#1f1ff5" stroke-width="0.8"/>
<line x1="95.62" y1="333.81" x2="100.02" y2="333.81" stroke="#1f1ff5" stroke-width="0.8"/>
<line x1="95.62" y1="328.93" x2="100.02" y2="328.93" stroke="#1f1ff5" stroke-width="0.8"/>
<circle cx="97.82" cy="331.37" r="2.1" fill="#1f1ff5"/>
<line x1="105.54" y1="333.81" x2="105.54" y2="328.93" stroke="#1f1ff5" stroke-width="0.8"/>
<line x1="103.34" y1="333.81" x2="107.74" y2="333.81" stroke="#1f1ff5" stroke-width="0.8"/>
<line x1="103.34" y1="328.93" x2="107.74" y2="328.93" stroke="#1f1ff5" stroke-width="0.8"/>
<circle cx="105.54" cy="331.37" r="2.1" fill="#1f1ff5"/>
<line x1="113.26" y1="332.13" x2="113.26" y2="327.86" stroke="#1f1ff5" stroke-width="0.8"/>
<line x1="111.06" y1="332.13" x2="115.46" y2="332.13" stroke="#1f1ff5" stroke-width="0.8"/>
<line x1="111.06" y1="327.86" x2="115.46" y2="327.86" stroke="#1f1ff5" stroke-width="0.8"/>
<circle cx="113.26" cy="329.99" r="2.1" fill="#1f1ff5"/>
<line x1="120.98" y1="331.98" x2="120.98" y2="327.70" stroke="#1f1ff5" stroke-width="0.8"/>
<line x1="118.78" y1="331.98" x2="123.18" y2="331.98" stroke="#1f1ff5" stroke-width="0.8"/>
<line x1="118.78" y1="327.70" x2="123.18" y2="327.70" stroke="#1f1ff5" stroke-width="0.8"/>
<circle cx="120.98" cy="329.84" r="2.1" fill="#1f1ff5"/>
<line x1="128.70" y1="313.37" x2="128.70" y2="309.10" stroke="#1f1ff5" stroke-width="0.8"/>
<line x1="126.50" y1="313.37" x2="130.90" y2="313.37" stroke="#1f1ff5" stroke-width="0.8"/>
<line x1="126.50" y1="309.10" x2="130.90" y2="309.10" stroke="#1f1ff5" stroke-width="0.8"/>
<circle cx="128.70" cy="311.24" r="2.1" fill="#1f1ff5"/>
<line x1="136.42" y1="313.37" x2="136.42" y2="309.10" stroke="#1f1ff5" stroke-width="0.8"/>
<line x1="134.22" y1="313.37" x2="138.62" y2="313.37" stroke="#1f1ff5" stroke-width="0.8"/>
<line x1="134.22" y1="309.10" x2="138.62" y2="309.10" stroke="#1f1ff5" stroke-width="0.8"/>
<circle cx="136.42" cy="311.24" r="2.1" fill="#1f1ff5"/>
<line x1="144.14" y1="313.98" x2="144.14" y2="310.32" stroke="#1f1ff5" stroke-width="0.8"/>
<line x1="141.94" y1="313.98" x2="146.34" y2="313.98" stroke="#1f1ff5" stroke-width="0.8"/>
<line x1="141.94" y1="310.32" x2="146.34" y2="310.32" stroke="#1f1ff5" stroke-width="0.8"/>
<circle cx="144.14" cy="312.15" r="2.1" fill="#1f1ff5"/>
<line x1="151.86" y1="314.29" x2="151.86" y2="310.62" stroke="#1f1ff5" stroke-width="0.8"/>
<line x1="149.66" y1="314.29" x2="154.06" y2="314.29" stroke="#1f1ff5" stroke-width="0.8"/>
<line x1="149.66" y1="310.62" x2="154.06" y2="310.62" stroke="#1f1ff5" stroke-width="0.8"/>
<circle cx="151.86" cy="312.45" r="2.1" fill="#1f1ff5"/>
<circle cx="164.73" cy="356.83" r="2.1" fill="#1f1ff5"/>
<circle cx="168.84" cy="357.14" r="2.1" fill="#1f1ff5"/>
<circle cx="173.99" cy="357.14" r="2.1" fill="#1f1ff5"/>
<circle cx="184.03" cy="357.90" r="2.1" fill="#1f1ff5"/>
<path d="M51.50,325.88 L59.22,330.45 L66.94,330.45 L74.66,330.45 L82.38,330.45 L97.82,301.93 L105.54,300.87 L113.26,299.34 L120.98,296.14 L128.70,280.28 L136.42,280.28 L144.14,280.74 L151.86,283.78 L164.73,355.00 L168.84,355.15 L173.99,355.15 L184.03,355.46" fill="none" stroke="#d08a50" stroke-width="0.9"/>
<circle cx="51.50" cy="325.88" r="2.1" fill="#b27a40"/>
<circle cx="59.22" cy="330.45" r="2.1" fill="#b27a40"/>
<circle cx="66.94" cy="330.45" r="2.1" fill="#b27a40"/>
<circle cx="74.66" cy="330.45" r="2.1" fill="#b27a40"/>
<circle cx="82.38" cy="330.45" r="2.1" fill="#b27a40"/>
<line x1="97.82" y1="304.22" x2="97.82" y2="299.64" stroke="#222" stroke-width="0.8"/>
<line x1="95.62" y1="304.22" x2="100.02" y2="304.22" stroke="#222" stroke-width="0.8"/>
<line x1="95.62" y1="299.64" x2="100.02" y2="299.64" stroke="#222" stroke-width="0.8"/>
<circle cx="97.82" cy="301.93" r="2.1" fill="#b27a40"/>
<line x1="105.54" y1="303.15" x2="105.54" y2="298.58" stroke="#222" stroke-width="0.8"/>
<line x1="103.34" y1="303.15" x2="107.74" y2="303.15" stroke="#222" stroke-width="0.8"/>
<line x1="103.34" y1="298.58" x2="107.74" y2="298.58" stroke="#222" stroke-width="0.8"/>
<circle cx="105.54" cy="300.87" r="2.1" fill="#b27a40"/>
<line x1="113.26" y1="301.17" x2="113.26" y2="297.51" stroke="#222" stroke-width="0.8"/>
<line x1="111.06" y1="301.17" x2="115.46" y2="301.17" stroke="#222" stroke-width="0.8"/>
<line x1="111.06" y1="297.51" x2="115.46" y2="297.51" stroke="#222" stroke-width="0.8"/>
<circle cx="113.26" cy="299.34" r="2.1" fill="#b27a40"/>
<line x1="120.98" y1="297.97" x2="120.98" y2="294.31" stroke="#222" stroke-width="0.8"/>
<line x1="118.78" y1="297.97" x2="123.18" y2="297.97" stroke="#222" stroke-width="0.8"/>
<line x1="118.78" y1="294.31" x2="123.18" y2="294.31" stroke="#222" stroke-width="0.8"/>
<circle cx="120.98" cy="296.14" r="2.1" fill="#b27a40"/>
<line x1="128.70" y1="283.78" x2="128.70" y2="276.77" stroke="#222" stroke-width="0.8"/>
<line x1="126.50" y1="283.78" x2="130.90" y2="283.78" stroke="#222" stroke-width="0.8"/>
<line x1="126.50" y1="276.77" x2="130.90" y2="276.77" stroke="#222" stroke-width="0.8"/>
<circle cx="128.70" cy="280.28" r="2.1" fill="#b27a40"/>
<line x1="136.42" y1="284.09" x2="136.42" y2="276.47" stroke="#222" stroke-width="0.8"/>
<line x1="134.22" y1="284.09" x2="138.62" y2="284.09" stroke="#222" stroke-width="0.8"/>
<line x1="134.22" y1="276.47" x2="138.62" y2="276.47" stroke="#222" stroke-width="0.8"/>
<circle cx="136.42" cy="280.28" r="2.1" fill="#b27a40"/>
<line x1="144.14" y1="283.78" x2="144.14" y2="277.69" stroke="#222" stroke-width="0.8"/>
<line x1="141.94" y1="283.78" x2="146.34" y2="283.78" stroke="#222" stroke-width="0.8"/>
<line x1="141.94" y1="277.69" x2="146.34" y2="277.69" stroke="#222" stroke-width="0.8"/>
<circle cx="144.14" cy="280.74" r="2.1" fill="#b27a40"/>
<line x1="151.86" y1="286.84" x2="151.86" y2="280.74" stroke="#222" stroke-width="0.8"/>
<line x1="149.66" y1="286.84" x2="154.06" y2="286.84" stroke="#222" stroke-width="0.8"/>
<line x1="149.66" y1="280.74" x2="154.06" y2="280.74" stroke="#222" stroke-width="0.8"/>
<circle cx="151.86" cy="283.78" r="2.1" fill="#b27a40"/>
<circle cx="164.73" cy="355.00" r="2.1" fill="#b27a40"/>
<circle cx="168.84" cy="355.15" r="2.1" fill="#b27a40"/>
<circle cx="173.99" cy="355.15" r="2.1" fill="#b27a40"/>
<circle cx="184.03" cy="355.46" r="2.1" fill="#b27a40"/>
<text x="63.30" y="289.80" font-family='"Liberation Serif", serif' font-size="6.45" font-weight="bold" text-anchor="start" fill="#000">10mM glucose</text>
<text x="99.40" y="264.60" font-family='"Liberation Serif", serif' font-size="6.45" font-weight="bold" text-anchor="start" fill="#000">2μM oligomycin</text>
<text x="132.50" y="250.80" font-family='"Liberation Serif", serif' font-size="6.45" font-weight="bold" text-anchor="start" fill="#000">100mM 2-DG</text>
<line x1="82.60" y1="295.20" x2="82.60" y2="321.50" stroke="#000" stroke-width="0.9"/>
<path d="M80.30,320.40 L84.90,320.40 L82.60,325.00 Z" fill="#000"/>
<line x1="120.90" y1="271.80" x2="120.90" y2="287.80" stroke="#000" stroke-width="0.9"/>
<path d="M118.60,286.70 L123.20,286.70 L120.90,291.30 Z" fill="#000"/>
<line x1="152.30" y1="257.50" x2="152.30" y2="273.10" stroke="#000" stroke-width="0.9"/>
<path d="M150.00,272.00 L154.60,272.00 L152.30,276.60 Z" fill="#000"/>
<line x1="172.50" y1="265.60" x2="185.60" y2="265.60" stroke="#d08a50" stroke-width="1.0"/>
<circle cx="179.00" cy="265.60" r="2.0" fill="#b27a40"/>
<text x="192.90" y="268.00" font-family='"Liberation Sans", sans-serif' font-size="6.9" font-weight="normal" text-anchor="start" fill="#000">shNC</text>
<line x1="172.50" y1="275.20" x2="185.60" y2="275.20" stroke="#2b2bff" stroke-width="1.0"/>
<circle cx="179.00" cy="275.20" r="2.0" fill="#1f1ff5"/>
<text x="192.90" y="277.60" font-family='"Liberation Sans", sans-serif' font-size="6.9" font-weight="normal" text-anchor="start" fill="#000">shFTO</text>
<text x="332.30" y="235.90" font-family='"Liberation Serif", serif' font-size="9.2" font-weight="normal" text-anchor="start" fill="#000">SCC25</text>
<text x="367.20" y="235.90" font-family='"Liberation Serif", serif' font-size="9.2" font-weight="normal" text-anchor="start" fill="#000">CAL27</text>
<line x1="323.00" y1="240.10" x2="362.00" y2="240.10" stroke="#8a8a8a" stroke-width="1.6"/>
<line x1="364.50" y1="240.10" x2="403.60" y2="240.10" stroke="#8a8a8a" stroke-width="1.6"/>
<text x="322.20" y="248.10" font-family='"Liberation Serif", serif' font-size="7.2" font-weight="normal" text-anchor="start" fill="#000">shFTO</text>
<text x="344.70" y="248.10" font-family='"Liberation Serif", serif' font-size="7.2" font-weight="normal" text-anchor="start" fill="#000">shNC</text>
<text x="364.00" y="248.10" font-family='"Liberation Serif", serif' font-size="7.2" font-weight="normal" text-anchor="start" fill="#000">shFTO</text>
<text x="386.50" y="248.10" font-family='"Liberation Serif", serif' font-size="7.2" font-weight="normal" text-anchor="start" fill="#000">shNC</text>
<clipPath id="cp1"><rect x="323.9" y="251.2" width="79.5" height="18.100000000000023"/></clipPath>
<g clip-path="url(#cp1)">
<rect x="323.9" y="251.2" width="79.5" height="18.100000000000023" fill="url(#wb1)"/>
<ellipse cx="336.00" cy="255.70" rx="7.2" ry="1.9500000000000002" fill="#252525" fill-opacity="0.95" filter="url(#bh)"/>
<ellipse cx="354.00" cy="256.10" rx="6.8" ry="1.6900000000000002" fill="#404040" fill-opacity="0.85" filter="url(#bh)"/>
<ellipse cx="372.50" cy="255.70" rx="7.2" ry="1.9500000000000002" fill="#2a2a2a" fill-opacity="0.95" filter="url(#bh)"/>
<ellipse cx="392.00" cy="255.90" rx="6.8" ry="1.6900000000000002" fill="#555" fill-opacity="0.75" filter="url(#bh)"/>
<ellipse cx="336.00" cy="262.00" rx="7.2" ry="1.6900000000000002" fill="#888" fill-opacity="0.55" filter="url(#bh)"/>
<ellipse cx="354.00" cy="262.00" rx="6.8" ry="1.6900000000000002" fill="#888" fill-opacity="0.45" filter="url(#bh)"/>
<ellipse cx="372.50" cy="262.00" rx="7.2" ry="1.6900000000000002" fill="#888" fill-opacity="0.5" filter="url(#bh)"/>
<ellipse cx="392.00" cy="262.00" rx="6.8" ry="1.6900000000000002" fill="#888" fill-opacity="0.45" filter="url(#bh)"/>
</g>
<rect x="324.40" y="251.70" width="78.50" height="17.10" fill="none" stroke="#1c1c1c" stroke-width="1.1"/>
<clipPath id="cp2"><rect x="323.9" y="271.4" width="79.5" height="14.200000000000045"/></clipPath>
<g clip-path="url(#cp2)">
<rect x="323.9" y="271.4" width="79.5" height="14.200000000000045" fill="url(#wb2)"/>
<ellipse cx="325.00" cy="279.00" rx="4" ry="9" fill="#3a3a3a" fill-opacity="0.6" filter="url(#b15)"/>
<ellipse cx="335.50" cy="278.30" rx="7.6" ry="3.3800000000000003" fill="#000" fill-opacity="1.0" filter="url(#bh)"/>
<ellipse cx="354.00" cy="278.90" rx="6.5" ry="1.9500000000000002" fill="#454545" fill-opacity="0.85" filter="url(#bh)"/>
<ellipse cx="371.50" cy="278.60" rx="6.8" ry="2.4699999999999998" fill="#151515" fill-opacity="0.95" filter="url(#bh)"/>
<ellipse cx="392.00" cy="276.60" rx="7.0" ry="1.9500000000000002" fill="#555" fill-opacity="0.75" filter="url(#bh)"/>
<ellipse cx="364.00" cy="285.00" rx="42" ry="1.5" fill="#3a3a3a" fill-opacity="0.45" filter="url(#b15)"/>
<ellipse cx="364.00" cy="271.50" rx="42" ry="1.2" fill="#9a9a9a" fill-opacity="0.35" filter="url(#b15)"/>
</g>
<rect x="324.40" y="271.90" width="78.50" height="13.20" fill="none" stroke="#1c1c1c" stroke-width="1.1"/>
<clipPath id="cp3"><rect x="324.0" y="287.2" width="79.69999999999999" height="19.600000000000023"/></clipPath>
<g clip-path="url(#cp3)">
<rect x="324.0" y="287.2" width="79.69999999999999" height="19.600000000000023" fill="url(#wb3)"/>
<ellipse cx="334.00" cy="294.00" rx="9" ry="6.5" fill="#6e6e6e" fill-opacity="0.65" filter="url(#b15)"/>
<ellipse cx="339.00" cy="296.00" rx="2.5" ry="2" fill="#bbb" fill-opacity="0.6" filter="url(#b1)"/>
<ellipse cx="332.50" cy="299.00" rx="6.5" ry="1.8199999999999998" fill="#2a2a2a" fill-opacity="0.85" filter="url(#bh)"/>
<ellipse cx="354.00" cy="294.50" rx="8.5" ry="5.5" fill="#888888" fill-opacity="0.55" filter="url(#b15)"/>
<ellipse cx="372.50" cy="290.60" rx="8.8" ry="3.8" fill="#000" fill-opacity="1.0" filter="url(#b1)"/>
<ellipse cx="372.50" cy="295.50" rx="8.8" ry="4.2" fill="#383838" fill-opacity="0.8" filter="url(#b15)"/>
<ellipse cx="392.00" cy="294.50" rx="7" ry="3" fill="#9a9a9a" fill-opacity="0.5" filter="url(#b15)"/>
<ellipse cx="364.00" cy="305.50" rx="42" ry="2.5" fill="#d0d0d0" fill-opacity="0.6" filter="url(#b15)"/>
</g>
<rect x="324.50" y="287.70" width="78.70" height="18.60" fill="none" stroke="#1c1c1c" stroke-width="1.1"/>
<clipPath id="cp4"><rect x="324.0" y="308.0" width="79.69999999999999" height="17.600000000000023"/></clipPath>
<g clip-path="url(#cp4)">
<rect x="324.0" y="308.0" width="79.69999999999999" height="17.600000000000023" fill="url(#wb4)"/>
<ellipse cx="335.00" cy="317.30" rx="7.4" ry="1.9500000000000002" fill="#1c1c1c" fill-opacity="0.95" filter="url(#bh)"/>
<ellipse cx="353.50" cy="318.00" rx="5.6" ry="1.56" fill="#3a3a3a" fill-opacity="0.85" filter="url(#bh)"/>
<ellipse cx="372.50" cy="317.60" rx="8.6" ry="2.6" fill="#000" fill-opacity="1.0" filter="url(#bh)"/>
<ellipse cx="392.50" cy="317.80" rx="8.0" ry="1.9500000000000002" fill="#1c1c1c" fill-opacity="0.95" filter="url(#bh)"/>
</g>
<rect x="324.50" y="308.50" width="78.70" height="16.60" fill="none" stroke="#1c1c1c" stroke-width="1.1"/>
<clipPath id="cp5"><rect x="324.4" y="328.0" width="39.5" height="17.100000000000023"/></clipPath>
<g clip-path="url(#cp5)">
<rect x="324.4" y="328.0" width="39.5" height="17.100000000000023" fill="url(#wb5)"/>
<ellipse cx="335.50" cy="336.50" rx="8.5" ry="1.6900000000000002" fill="#202020" fill-opacity="0.95" filter="url(#bh)"/>
<ellipse cx="354.50" cy="337.00" rx="6.5" ry="1.6900000000000002" fill="#505050" fill-opacity="0.75" filter="url(#bh)"/>
<ellipse cx="361.00" cy="331.00" rx="4" ry="4" fill="#777" fill-opacity="0.35" filter="url(#b15)"/>
</g>
<rect x="324.90" y="328.50" width="38.50" height="16.10" fill="none" stroke="#1c1c1c" stroke-width="1.1"/>
<clipPath id="cp6"><rect x="365.7" y="328.0" width="36.69999999999999" height="17.100000000000023"/></clipPath>
<g clip-path="url(#cp6)">
<rect x="365.7" y="328.0" width="36.69999999999999" height="17.100000000000023" fill="url(#wb5b)"/>
<ellipse cx="375.50" cy="337.60" rx="7" ry="2.08" fill="#1c1c1c" fill-opacity="0.9" filter="url(#bh)"/>
<ellipse cx="393.00" cy="337.90" rx="7" ry="2.08" fill="#333" fill-opacity="0.85" filter="url(#bh)"/>
<ellipse cx="399.00" cy="331.00" rx="3.5" ry="4.5" fill="#555" fill-opacity="0.5" filter="url(#b15)"/>
</g>
<rect x="366.20" y="328.50" width="35.70" height="16.10" fill="none" stroke="#1c1c1c" stroke-width="1.1"/>
<clipPath id="cp7"><rect x="322.3" y="347.4" width="79.80000000000001" height="16.700000000000045"/></clipPath>
<g clip-path="url(#cp7)">
<rect x="322.3" y="347.4" width="79.80000000000001" height="16.700000000000045" fill="url(#wb6)"/>
<ellipse cx="335.00" cy="355.40" rx="8.6" ry="1.55" fill="#000" fill-opacity="1.0" filter="url(#bt)"/>
<ellipse cx="353.00" cy="355.90" rx="8.6" ry="1.8" fill="#000" fill-opacity="1.0" filter="url(#bt)"/>
<ellipse cx="371.50" cy="355.00" rx="8.6" ry="1.4" fill="#000" fill-opacity="1.0" filter="url(#bt)"/>
<ellipse cx="390.50" cy="355.60" rx="8.0" ry="1.5" fill="#000" fill-opacity="1.0" filter="url(#bt)"/>
</g>
<rect x="322.80" y="347.90" width="78.80" height="15.70" fill="none" stroke="#1c1c1c" stroke-width="1.1"/>
<text x="283.80" y="264.40" font-family='"Liberation Serif", serif' font-size="11.1" font-weight="normal" text-anchor="middle" fill="#000">P-IKKα/β</text>
<text x="283.80" y="282.90" font-family='"Liberation Serif", serif' font-size="11.1" font-weight="normal" text-anchor="middle" fill="#000">NF-κbP65</text>
<text x="283.80" y="300.90" font-family='"Liberation Serif", serif' font-size="11.1" font-weight="normal" text-anchor="middle" fill="#000">P-NF-κbP65</text>
<text x="283.80" y="321.30" font-family='"Liberation Serif", serif' font-size="11.1" font-weight="normal" text-anchor="middle" fill="#000">IκBα</text>
<text x="283.80" y="341.30" font-family='"Liberation Serif", serif' font-size="11.1" font-weight="normal" text-anchor="middle" fill="#000">P-lκBα</text>
<text x="283.80" y="357.40" font-family='"Liberation Serif", serif' font-size="11.1" font-weight="normal" text-anchor="middle" fill="#000">α-tubulin</text>
<text x="405.50" y="258.30" font-family='"Liberation Serif", serif' font-size="9.1" font-weight="normal" text-anchor="start" fill="#000">87KD</text>
<text x="405.50" y="269.90" font-family='"Liberation Serif", serif' font-size="9.1" font-weight="normal" text-anchor="start" fill="#000">85KD</text>
<text x="405.50" y="282.70" font-family='"Liberation Serif", serif' font-size="9.1" font-weight="normal" text-anchor="start" fill="#000">65KD</text>
<text x="405.50" y="300.50" font-family='"Liberation Serif", serif' font-size="9.1" font-weight="normal" text-anchor="start" fill="#000">65KD</text>
<text x="405.50" y="322.70" font-family='"Liberation Serif", serif' font-size="9.1" font-weight="normal" text-anchor="start" fill="#000">40KD</text>
<text x="405.50" y="340.80" font-family='"Liberation Serif", serif' font-size="9.1" font-weight="normal" text-anchor="start" fill="#000">40KD</text>
<text x="405.50" y="358.80" font-family='"Liberation Serif", serif' font-size="9.1" font-weight="normal" text-anchor="start" fill="#000">55KD</text>
<text x="550.30" y="189.10" font-family='"Liberation Sans", sans-serif' font-size="7.0" font-weight="bold" text-anchor="middle" fill="#000">SCC25</text>
<rect x="492.60" y="238.23" width="6.10" height="41.27" fill="#333333"/>
<rect x="502.00" y="253.95" width="6.10" height="25.55" fill="#a99a1c"/>
<line x1="495.65" y1="236.26" x2="495.65" y2="240.19" stroke="#222" stroke-width="0.7"/>
<line x1="494.05" y1="236.26" x2="497.25" y2="236.26" stroke="#222" stroke-width="0.7"/>
<line x1="505.05" y1="252.48" x2="505.05" y2="255.42" stroke="#222" stroke-width="0.7"/>
<line x1="503.45" y1="252.48" x2="506.65" y2="252.48" stroke="#222" stroke-width="0.7"/>
<path d="M495.85,233.26 L495.85,204.60 L505.05,204.60 L505.05,249.48" fill="none" stroke="#333" stroke-width="0.75"/>
<text x="500.45" y="205.80" font-family='"Liberation Sans", sans-serif' font-size="11.2" font-weight="bold" text-anchor="middle" fill="#000">**</text>
<rect x="517.60" y="235.28" width="6.10" height="44.22" fill="#333333"/>
<rect x="527.00" y="256.16" width="6.10" height="23.34" fill="#a99a1c"/>
<line x1="520.65" y1="232.33" x2="520.65" y2="238.23" stroke="#222" stroke-width="0.7"/>
<line x1="519.05" y1="232.33" x2="522.25" y2="232.33" stroke="#222" stroke-width="0.7"/>
<line x1="530.05" y1="252.23" x2="530.05" y2="260.09" stroke="#222" stroke-width="0.7"/>
<line x1="528.45" y1="252.23" x2="531.65" y2="252.23" stroke="#222" stroke-width="0.7"/>
<path d="M520.85,229.33 L520.85,204.60 L530.05,204.60 L530.05,249.23" fill="none" stroke="#333" stroke-width="0.75"/>
<text x="525.45" y="205.80" font-family='"Liberation Sans", sans-serif' font-size="11.2" font-weight="bold" text-anchor="middle" fill="#000">****</text>
<rect x="542.60" y="241.96" width="6.10" height="37.54" fill="#333333"/>
<rect x="552.00" y="264.76" width="6.10" height="14.74" fill="#a99a1c"/>
<line x1="545.65" y1="241.47" x2="545.65" y2="242.45" stroke="#222" stroke-width="0.7"/>
<line x1="544.05" y1="241.47" x2="547.25" y2="241.47" stroke="#222" stroke-width="0.7"/>
<line x1="555.05" y1="263.29" x2="555.05" y2="266.23" stroke="#222" stroke-width="0.7"/>
<line x1="553.45" y1="263.29" x2="556.65" y2="263.29" stroke="#222" stroke-width="0.7"/>
<path d="M545.85,238.47 L545.85,204.60 L555.05,204.60 L555.05,260.29" fill="none" stroke="#333" stroke-width="0.75"/>
<text x="550.45" y="205.80" font-family='"Liberation Sans", sans-serif' font-size="11.2" font-weight="bold" text-anchor="middle" fill="#000">****</text>
<rect x="567.60" y="224.47" width="6.10" height="55.03" fill="#333333"/>
<rect x="577.00" y="236.26" width="6.10" height="43.24" fill="#a99a1c"/>
<line x1="570.65" y1="213.17" x2="570.65" y2="235.77" stroke="#222" stroke-width="0.7"/>
<line x1="569.05" y1="213.17" x2="572.25" y2="213.17" stroke="#222" stroke-width="0.7"/>
<line x1="580.05" y1="232.33" x2="580.05" y2="240.19" stroke="#222" stroke-width="0.7"/>
<line x1="578.45" y1="232.33" x2="581.65" y2="232.33" stroke="#222" stroke-width="0.7"/>
<path d="M570.85,210.17 L570.85,204.60 L580.05,204.60 L580.05,229.33" fill="none" stroke="#333" stroke-width="0.75"/>
<text x="575.45" y="205.80" font-family='"Liberation Sans", sans-serif' font-size="11.2" font-weight="bold" text-anchor="middle" fill="#000">*</text>
<rect x="592.60" y="229.38" width="6.10" height="50.12" fill="#333333"/>
<rect x="602.00" y="248.05" width="6.10" height="31.45" fill="#a99a1c"/>
<line x1="595.65" y1="224.47" x2="595.65" y2="234.30" stroke="#222" stroke-width="0.7"/>
<line x1="594.05" y1="224.47" x2="597.25" y2="224.47" stroke="#222" stroke-width="0.7"/>
<line x1="605.05" y1="246.58" x2="605.05" y2="249.53" stroke="#222" stroke-width="0.7"/>
<line x1="603.45" y1="246.58" x2="606.65" y2="246.58" stroke="#222" stroke-width="0.7"/>
<path d="M595.85,221.47 L595.85,204.60 L605.05,204.60 L605.05,243.58" fill="none" stroke="#333" stroke-width="0.75"/>
<text x="600.45" y="205.80" font-family='"Liberation Sans", sans-serif' font-size="11.2" font-weight="bold" text-anchor="middle" fill="#000">***</text>
<line x1="489.70" y1="205.40" x2="489.70" y2="280.10" stroke="#111" stroke-width="1.1"/>
<line x1="489.20" y1="279.50" x2="610.60" y2="279.50" stroke="#111" stroke-width="1.1"/>
<line x1="486.70" y1="279.50" x2="489.70" y2="279.50" stroke="#111" stroke-width="0.9"/>
<text x="485.20" y="281.50" font-family='"Liberation Sans", sans-serif' font-size="5.6" font-weight="bold" text-anchor="end" fill="#222">0.0</text>
<line x1="486.70" y1="254.93" x2="489.70" y2="254.93" stroke="#111" stroke-width="0.9"/>
<text x="485.20" y="256.93" font-family='"Liberation Sans", sans-serif' font-size="5.6" font-weight="bold" text-anchor="end" fill="#222">0.5</text>
<line x1="486.70" y1="230.37" x2="489.70" y2="230.37" stroke="#111" stroke-width="0.9"/>
<text x="485.20" y="232.37" font-family='"Liberation Sans", sans-serif' font-size="5.6" font-weight="bold" text-anchor="end" fill="#222">1.0</text>
<line x1="486.70" y1="205.80" x2="489.70" y2="205.80" stroke="#111" stroke-width="0.9"/>
<text x="485.20" y="207.80" font-family='"Liberation Sans", sans-serif' font-size="5.6" font-weight="bold" text-anchor="end" fill="#222">1.5</text>
<line x1="500.35" y1="279.50" x2="500.35" y2="282.30" stroke="#111" stroke-width="0.9"/>
<text x="502.35" y="285.50" font-family='"Liberation Sans", sans-serif' font-size="6.0" font-weight="normal" text-anchor="end" fill="#1a1a1a" transform="rotate(-45 502.35 285.5)">P-IKKα/β</text>
<line x1="525.35" y1="279.50" x2="525.35" y2="282.30" stroke="#111" stroke-width="0.9"/>
<text x="527.35" y="285.50" font-family='"Liberation Sans", sans-serif' font-size="6.0" font-weight="normal" text-anchor="end" fill="#1a1a1a" transform="rotate(-45 527.35 285.5)">NF-κbP65</text>
<line x1="550.35" y1="279.50" x2="550.35" y2="282.30" stroke="#111" stroke-width="0.9"/>
<text x="552.35" y="285.50" font-family='"Liberation Sans", sans-serif' font-size="6.0" font-weight="normal" text-anchor="end" fill="#1a1a1a" transform="rotate(-45 552.35 285.5)">P-NF-κbP65</text>
<line x1="575.35" y1="279.50" x2="575.35" y2="282.30" stroke="#111" stroke-width="0.9"/>
<text x="577.35" y="285.50" font-family='"Liberation Sans", sans-serif' font-size="6.0" font-weight="normal" text-anchor="end" fill="#1a1a1a" transform="rotate(-45 577.35 285.5)">IκBα</text>
<line x1="600.35" y1="279.50" x2="600.35" y2="282.30" stroke="#111" stroke-width="0.9"/>
<text x="602.35" y="285.50" font-family='"Liberation Sans", sans-serif' font-size="6.0" font-weight="normal" text-anchor="end" fill="#1a1a1a" transform="rotate(-45 602.35 285.5)">P-IκBα</text>
<text x="473.40" y="243.00" font-family='"Liberation Serif", serif' font-size="5.6" font-weight="normal" text-anchor="middle" fill="#000" transform="rotate(-90 473.4 243.0)">Relative protein levels</text>
<rect x="627.80" y="208.25" width="8.00" height="4.10" fill="#333333"/>
<rect x="627.80" y="218.95" width="8.00" height="4.10" fill="#a99a1c"/>
<text x="640.20" y="212.45" font-family='"Liberation Sans", sans-serif' font-size="6.0" font-weight="normal" text-anchor="start" fill="#222">shFTO</text>
<text x="640.20" y="223.15" font-family='"Liberation Sans", sans-serif' font-size="6.0" font-weight="normal" text-anchor="start" fill="#222">shNC</text>
<text x="550.60" y="319.30" font-family='"Liberation Sans", sans-serif' font-size="7.0" font-weight="bold" text-anchor="middle" fill="#000">CAL27</text>
<rect x="494.10" y="368.16" width="6.10" height="42.24" fill="#333333"/>
<rect x="503.00" y="383.42" width="6.10" height="26.98" fill="#a99a1c"/>
<line x1="497.15" y1="367.68" x2="497.15" y2="368.64" stroke="#222" stroke-width="0.7"/>
<line x1="495.55" y1="367.68" x2="498.75" y2="367.68" stroke="#222" stroke-width="0.7"/>
<line x1="506.05" y1="382.46" x2="506.05" y2="384.38" stroke="#222" stroke-width="0.7"/>
<line x1="504.45" y1="382.46" x2="507.65" y2="382.46" stroke="#222" stroke-width="0.7"/>
<path d="M497.35,364.68 L497.35,334.40 L506.05,334.40 L506.05,379.46" fill="none" stroke="#333" stroke-width="0.75"/>
<text x="501.70" y="335.90" font-family='"Liberation Sans", sans-serif' font-size="11.2" font-weight="bold" text-anchor="middle" fill="#000">****</text>
<rect x="518.60" y="372.00" width="6.10" height="38.40" fill="#333333"/>
<rect x="527.50" y="384.00" width="6.10" height="26.40" fill="#a99a1c"/>
<line x1="521.65" y1="369.60" x2="521.65" y2="374.40" stroke="#222" stroke-width="0.7"/>
<line x1="520.05" y1="369.60" x2="523.25" y2="369.60" stroke="#222" stroke-width="0.7"/>
<line x1="530.55" y1="381.12" x2="530.55" y2="386.88" stroke="#222" stroke-width="0.7"/>
<line x1="528.95" y1="381.12" x2="532.15" y2="381.12" stroke="#222" stroke-width="0.7"/>
<path d="M521.85,366.60 L521.85,334.40 L530.55,334.40 L530.55,378.12" fill="none" stroke="#333" stroke-width="0.75"/>
<text x="526.20" y="335.90" font-family='"Liberation Sans", sans-serif' font-size="11.2" font-weight="bold" text-anchor="middle" fill="#000">****</text>
<rect x="543.10" y="376.32" width="6.10" height="34.08" fill="#333333"/>
<rect x="552.00" y="393.60" width="6.10" height="16.80" fill="#a99a1c"/>
<line x1="546.15" y1="375.84" x2="546.15" y2="376.80" stroke="#222" stroke-width="0.7"/>
<line x1="544.55" y1="375.84" x2="547.75" y2="375.84" stroke="#222" stroke-width="0.7"/>
<line x1="555.05" y1="393.12" x2="555.05" y2="394.08" stroke="#222" stroke-width="0.7"/>
<line x1="553.45" y1="393.12" x2="556.65" y2="393.12" stroke="#222" stroke-width="0.7"/>
<path d="M546.35,372.84 L546.35,334.40 L555.05,334.40 L555.05,390.12" fill="none" stroke="#333" stroke-width="0.75"/>
<text x="550.70" y="335.90" font-family='"Liberation Sans", sans-serif' font-size="11.2" font-weight="bold" text-anchor="middle" fill="#000">****</text>
<rect x="567.60" y="343.68" width="6.10" height="66.72" fill="#333333"/>
<rect x="576.50" y="387.36" width="6.10" height="23.04" fill="#a99a1c"/>
<line x1="570.65" y1="343.20" x2="570.65" y2="344.16" stroke="#222" stroke-width="0.7"/>
<line x1="569.05" y1="343.20" x2="572.25" y2="343.20" stroke="#222" stroke-width="0.7"/>
<line x1="579.55" y1="384.00" x2="579.55" y2="390.72" stroke="#222" stroke-width="0.7"/>
<line x1="577.95" y1="384.00" x2="581.15" y2="384.00" stroke="#222" stroke-width="0.7"/>
<path d="M570.85,340.20 L570.85,334.40 L579.55,334.40 L579.55,381.00" fill="none" stroke="#333" stroke-width="0.75"/>
<text x="575.20" y="335.90" font-family='"Liberation Sans", sans-serif' font-size="11.2" font-weight="bold" text-anchor="middle" fill="#000">****</text>
<rect x="592.10" y="363.84" width="6.10" height="46.56" fill="#333333"/>
<rect x="601.00" y="392.88" width="6.10" height="17.52" fill="#a99a1c"/>
<line x1="595.15" y1="362.40" x2="595.15" y2="365.28" stroke="#222" stroke-width="0.7"/>
<line x1="593.55" y1="362.40" x2="596.75" y2="362.40" stroke="#222" stroke-width="0.7"/>
<line x1="604.05" y1="391.92" x2="604.05" y2="393.84" stroke="#222" stroke-width="0.7"/>
<line x1="602.45" y1="391.92" x2="605.65" y2="391.92" stroke="#222" stroke-width="0.7"/>
<path d="M595.35,359.40 L595.35,334.40 L604.05,334.40 L604.05,388.92" fill="none" stroke="#333" stroke-width="0.75"/>
<text x="599.70" y="335.90" font-family='"Liberation Sans", sans-serif' font-size="11.2" font-weight="bold" text-anchor="middle" fill="#000">****</text>
<line x1="491.30" y1="338.00" x2="491.30" y2="411.00" stroke="#111" stroke-width="1.1"/>
<line x1="490.80" y1="410.40" x2="609.90" y2="410.40" stroke="#111" stroke-width="1.1"/>
<line x1="488.30" y1="410.40" x2="491.30" y2="410.40" stroke="#111" stroke-width="0.9"/>
<text x="486.80" y="412.40" font-family='"Liberation Sans", sans-serif' font-size="5.6" font-weight="bold" text-anchor="end" fill="#222">0.0</text>
<line x1="488.30" y1="386.40" x2="491.30" y2="386.40" stroke="#111" stroke-width="0.9"/>
<text x="486.80" y="388.40" font-family='"Liberation Sans", sans-serif' font-size="5.6" font-weight="bold" text-anchor="end" fill="#222">0.5</text>
<line x1="488.30" y1="362.40" x2="491.30" y2="362.40" stroke="#111" stroke-width="0.9"/>
<text x="486.80" y="364.40" font-family='"Liberation Sans", sans-serif' font-size="5.6" font-weight="bold" text-anchor="end" fill="#222">1.0</text>
<line x1="488.30" y1="338.40" x2="491.30" y2="338.40" stroke="#111" stroke-width="0.9"/>
<text x="486.80" y="340.40" font-family='"Liberation Sans", sans-serif' font-size="5.6" font-weight="bold" text-anchor="end" fill="#222">1.5</text>
<line x1="501.60" y1="410.40" x2="501.60" y2="413.20" stroke="#111" stroke-width="0.9"/>
<text x="503.60" y="416.00" font-family='"Liberation Sans", sans-serif' font-size="6.0" font-weight="normal" text-anchor="end" fill="#1a1a1a" transform="rotate(-45 503.6 416.0)">P-IKKα/β</text>
<line x1="526.10" y1="410.40" x2="526.10" y2="413.20" stroke="#111" stroke-width="0.9"/>
<text x="528.10" y="416.00" font-family='"Liberation Sans", sans-serif' font-size="6.0" font-weight="normal" text-anchor="end" fill="#1a1a1a" transform="rotate(-45 528.1 416.0)">NF-κbP65</text>
<line x1="550.60" y1="410.40" x2="550.60" y2="413.20" stroke="#111" stroke-width="0.9"/>
<text x="552.60" y="416.00" font-family='"Liberation Sans", sans-serif' font-size="6.0" font-weight="normal" text-anchor="end" fill="#1a1a1a" transform="rotate(-45 552.6 416.0)">P-NF-κbP65</text>
<line x1="575.10" y1="410.40" x2="575.10" y2="413.20" stroke="#111" stroke-width="0.9"/>
<text x="577.10" y="416.00" font-family='"Liberation Sans", sans-serif' font-size="6.0" font-weight="normal" text-anchor="end" fill="#1a1a1a" transform="rotate(-45 577.1 416.0)">IκBα</text>
<line x1="599.60" y1="410.40" x2="599.60" y2="413.20" stroke="#111" stroke-width="0.9"/>
<text x="601.60" y="416.00" font-family='"Liberation Sans", sans-serif' font-size="6.0" font-weight="normal" text-anchor="end" fill="#1a1a1a" transform="rotate(-45 601.6 416.0)">P-IκBα</text>
<text x="476.60" y="374.30" font-family='"Liberation Serif", serif' font-size="5.6" font-weight="normal" text-anchor="middle" fill="#000" transform="rotate(-90 476.6 374.3)">Relative protein levels</text>
<rect x="626.40" y="340.80" width="8.00" height="4.10" fill="#333333"/>
<rect x="626.40" y="351.20" width="8.00" height="4.10" fill="#a99a1c"/>
<text x="638.80" y="345.00" font-family='"Liberation Sans", sans-serif' font-size="6.0" font-weight="normal" text-anchor="start" fill="#222">shFTO</text>
<text x="638.80" y="355.40" font-family='"Liberation Sans", sans-serif' font-size="6.0" font-weight="normal" text-anchor="start" fill="#222">shNC</text>
<text x="4.10" y="18.60" font-family='"Liberation Serif", serif' font-size="13.8" font-weight="bold" text-anchor="start" fill="#000">A</text>
<text x="440.20" y="9.60" font-family='"Liberation Serif", serif' font-size="13.8" font-weight="bold" text-anchor="start" fill="#000">B</text>
<text x="7.10" y="221.60" font-family='"Liberation Serif", serif' font-size="13.8" font-weight="bold" text-anchor="start" fill="#000">C</text>
<text x="248.00" y="223.70" font-family='"Liberation Serif", serif' font-size="13.8" font-weight="bold" text-anchor="start" fill="#000">D</text>
<text x="457.00" y="197.70" font-family='"Liberation Serif", serif' font-size="14.6" font-weight="bold" text-anchor="start" fill="#000">E</text>
</svg>
</body></html>
